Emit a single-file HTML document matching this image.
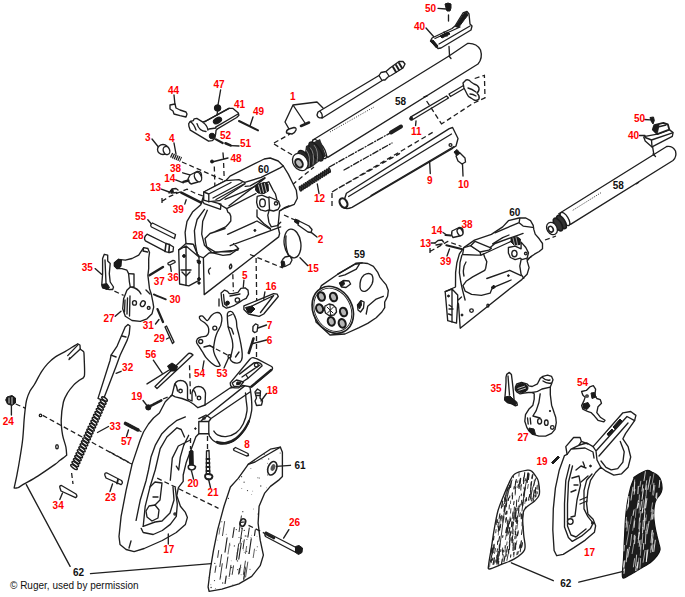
<!DOCTYPE html>
<html><head><meta charset="utf-8">
<style>
html,body{margin:0;padding:0;background:#fff;width:685px;height:597px;overflow:hidden}
svg{display:block}
.l{font-family:"Liberation Sans",sans-serif;font-weight:bold;font-size:10px;fill:#f00}
.k{font-family:"Liberation Sans",sans-serif;font-weight:bold;font-size:10px;fill:#111}
.s{fill:none;stroke:#1f1f1f;stroke-width:1.35;stroke-linejoin:round;stroke-linecap:round}
.w{fill:#fff;stroke:#1f1f1f;stroke-width:1.35;stroke-linejoin:round}
.d{fill:none;stroke:#1f1f1f;stroke-width:1.3;stroke-dasharray:5 3}
.f{fill:#1a1a1a;stroke:#1a1a1a;stroke-width:1}
.t{fill:none;stroke:#1a1a1a;stroke-width:0.9}
</style></head><body>
<svg width="685" height="597" viewBox="0 0 685 597">
<!-- TOP-LEFT SMALL PARTS -->
<g id="tl">











<path class="s" d="M174 95L175 105M220.6 90L218 105M253 117L250 126M152 139L160 149M174 143L176 154M239 146L231 145.6"/>
<path class="w" d="M170 105L175 104L176 108L180 110L186 112L187 114L186 117L180 115.6L174 114L173 111L170 109Z"/>

<!-- rear sight 41 -->
<path class="w" d="M188.9 126.3L188.7 123.6L190.3 121.5L193.3 120.6L194.2 118.8L196.8 118.4L202.5 121.9L205.1 121.5L228.8 108.3L232.7 108.3L238.4 113.1L238.9 115.3L236.7 117.5L217.4 128.9L216.1 130.2L215.6 134.2L214.8 138.5L212.1 140.7L208.6 141.2L190.3 130.2Z"/>
<path class="s" d="M204.7 121.7L229.2 108.3M215.6 127.1L238 114M190.3 121.5Q194 124 196 130M197 123.6Q199 131 206 131.5M203 122.5Q207 125 208 130M209 129L216 128"/>
<ellipse cx="217.5" cy="120.5" rx="4.5" ry="2.8" transform="rotate(-30 217.5 120.5)" class="f"/>
<circle cx="217.6" cy="108" r="3.3" class="f"/>
<path class="s" d="M217.6 111L217 115"/>
<circle cx="212" cy="136" r="2.8" class="f"/>
<path class="s" style="stroke-width:2.2" d="M216 139.4L222.7 143"/>
<path class="s" style="stroke-width:2.6" d="M225.5 143.3L230.5 145.4"/>
<path class="s" style="stroke-width:2" d="M239 121L258 130.4"/>
<!-- 3 plunger -->
<ellipse cx="163" cy="149.5" rx="5.5" ry="5" class="w"/>
<ellipse cx="166.5" cy="150.5" rx="3.2" ry="4.2" class="w" transform="rotate(-20 166.5 150.5)"/>
<!-- 4 spring -->
<path class="s" style="stroke-width:5;stroke-dasharray:1.3 0.7;stroke-linecap:butt" d="M171 155L181 159.5"/>
<path class="d" d="M182 162L223 180"/>
<!-- 48 pin -->
<path class="s" d="M212 162L228 158M223 153L223.5 159"/>
<circle cx="212" cy="161.5" r="1.5" class="f"/>
<path class="d" d="M214.3 166.5L214.9 187M223.6 163L224.2 179"/>
</g>

<!-- BARREL 58 LEFT -->
<g id="barrel">
<path class="w" d="M313.3 139.7L449 56L467.5 43.5Q476.4 42.8 480.5 50Q483 58 478 64L327.7 157.4Z"/>
<path class="s" d="M449 56L451 58.5M424 97L427 96"/>
<ellipse cx="319.5" cy="149" rx="4.2" ry="11.2" transform="rotate(-33 319.5 149)" class="w"/>
<path d="M306 146L320 139L326 156L312 167L302 171Z" fill="#2a2a2a"/>
<ellipse cx="316" cy="151.5" rx="4.5" ry="11" transform="rotate(-33 316 151.5)" fill="#2a2a2a" stroke="#1a1a1a" stroke-width="1.4"/>
<ellipse cx="304.5" cy="159" rx="4.5" ry="9.8" transform="rotate(-33 304.5 159)" fill="#2a2a2a" stroke="#1a1a1a" stroke-width="1.4"/>
<path d="M306 150Q311 156 309 167M310 147.5Q315 153 313 164.5M314 145Q319 151 317 162" stroke="#999" stroke-width="0.8" fill="none"/>
<ellipse cx="300.3" cy="162" rx="7.2" ry="9.2" transform="rotate(-33 300.3 162)" class="w"/>
<ellipse cx="299" cy="163.3" rx="3.4" ry="4.6" transform="rotate(-33 299 163.3)" fill="#bbb" stroke="#1f1f1f" stroke-width="2"/>
<path class="t" style="stroke-dasharray:1 1.5" d="M330 132L374 107"/>
<path class="s" style="stroke-dasharray:6 2 1 2" d="M329.3 167L389.6 133.3M344 170L392 143"/>
<path class="s" style="stroke-width:4" d="M391 132.5L401 126.5"/>

</g>
<!-- ejector rod -->
<path class="w" d="M318 112L379 75.5L381 72.5L386 71.5L390 68L399 61.5L403 61.5L405 64L403 68L391 75.5L388 77L385 80L383 80L323 117.5Q318 119 317 115Z"/>
<path class="s" d="M320 111.5Q323 114 322 118M379 75.5L382 80.5M386 71.5L389 76"/>
<path class="s" style="stroke-width:2" d="M393 67L396 72M396 65L399 70M399 63L402 68"/>
<!-- part 1 -->

<path class="s" d="M293 105L317 102L323 108M293 105L285 122L289 129M293 105L305 123"/>
<path class="w" d="M286.5 133Q286 130 289 129L294 127.5Q296.5 127.5 296 130Q295 133 292 134Z"/>
<path class="s" style="stroke-width:2.6" d="M301 126L309 122.5"/>
<path class="d" d="M274 144L294 156M274 143L290 134"/>
<!-- front sight 40 / screw 50 -->


<path class="s" d="M438 8.4L446 9M426 28L434 37"/>
<path class="f" d="M445 4Q448 2 451 4L451 8L450 11L447 11L446 8Z"/>
<path class="s" d="M448.5 15L448.5 21"/>
<path class="w" d="M430.5 41L432 38L452 28.5L455 26L463 13L467 11.5L469 14L470 24L472 26L471 30L441 48L438 48.5L434 44.5Z"/>
<path class="s" d="M433 41.5L437 46M435 38.5L460 27M439 44L470 26M456 26.5L466 14M444 32L447 36"/>
<path class="f" d="M440 36L448 32L450 34L442 38Z"/>
<path class="f" d="M455.5 26.5L463.5 14L466.5 12.5L468 15L464.5 19.5L458.5 27.5Z"/>
<path class="f" d="M430.5 41L433 40L438 46L436.5 48Z"/><path class="s" d="M449 46.5L449.5 55"/>
<!-- part 11 -->
<path class="w" d="M410.5 117.2L446.6 96L448.5 98L412 120Z"/>
<circle cx="411.2" cy="118.6" r="1.6" class="f"/>
<path class="w" d="M449 94L463.5 85.5L465 88L450.5 96.5Z"/>
<path class="w" d="M463 83L466 80Q469 79 471 82L474 84Q478 85 479 88Q479.5 91 477 93Q480 96 479 99Q477 101 474 100L471 98Q468 97 467 94L464 88Z"/>
<path class="s" d="M468 88Q472 89 476 92M470 94Q473 94 476 96"/>
<path class="d" d="M474.7 78.5L484.4 75.3L485 97.8L473 103.4L441 124.3M426.6 101L441.8 124.3"/>

<path class="s" d="M416 121L415.6 125.5"/>
<!-- spring 12 -->
<g><ellipse cx="300.4" cy="188.7" rx="2.4" ry="0.9" transform="rotate(72.4 300.4 188.7)" fill="#555" stroke="#1a1a1a" stroke-width="1.3"/><ellipse cx="302.3" cy="187.5" rx="2.4" ry="0.9" transform="rotate(72.4 302.3 187.5)" fill="#555" stroke="#1a1a1a" stroke-width="1.3"/><ellipse cx="304.3" cy="186.2" rx="2.4" ry="0.9" transform="rotate(72.4 304.3 186.2)" fill="#555" stroke="#1a1a1a" stroke-width="1.3"/><ellipse cx="306.2" cy="185.0" rx="2.4" ry="0.9" transform="rotate(72.4 306.2 185.0)" fill="#555" stroke="#1a1a1a" stroke-width="1.3"/><ellipse cx="308.1" cy="183.8" rx="2.4" ry="0.9" transform="rotate(72.4 308.1 183.8)" fill="#555" stroke="#1a1a1a" stroke-width="1.3"/><ellipse cx="310.0" cy="182.5" rx="2.4" ry="0.9" transform="rotate(72.4 310.0 182.5)" fill="#555" stroke="#1a1a1a" stroke-width="1.3"/><ellipse cx="312.0" cy="181.3" rx="2.4" ry="0.9" transform="rotate(72.4 312.0 181.3)" fill="#555" stroke="#1a1a1a" stroke-width="1.3"/><ellipse cx="313.9" cy="180.1" rx="2.4" ry="0.9" transform="rotate(72.4 313.9 180.1)" fill="#555" stroke="#1a1a1a" stroke-width="1.3"/><ellipse cx="315.8" cy="178.8" rx="2.4" ry="0.9" transform="rotate(72.4 315.8 178.8)" fill="#555" stroke="#1a1a1a" stroke-width="1.3"/><ellipse cx="317.7" cy="177.6" rx="2.4" ry="0.9" transform="rotate(72.4 317.7 177.6)" fill="#555" stroke="#1a1a1a" stroke-width="1.3"/><ellipse cx="319.7" cy="176.4" rx="2.4" ry="0.9" transform="rotate(72.4 319.7 176.4)" fill="#555" stroke="#1a1a1a" stroke-width="1.3"/><ellipse cx="321.6" cy="175.1" rx="2.4" ry="0.9" transform="rotate(72.4 321.6 175.1)" fill="#555" stroke="#1a1a1a" stroke-width="1.3"/><ellipse cx="323.5" cy="173.9" rx="2.4" ry="0.9" transform="rotate(72.4 323.5 173.9)" fill="#555" stroke="#1a1a1a" stroke-width="1.3"/><ellipse cx="325.4" cy="172.7" rx="2.4" ry="0.9" transform="rotate(72.4 325.4 172.7)" fill="#555" stroke="#1a1a1a" stroke-width="1.3"/><ellipse cx="327.4" cy="171.4" rx="2.4" ry="0.9" transform="rotate(72.4 327.4 171.4)" fill="#555" stroke="#1a1a1a" stroke-width="1.3"/><ellipse cx="329.3" cy="170.2" rx="2.4" ry="0.9" transform="rotate(72.4 329.3 170.2)" fill="#555" stroke="#1a1a1a" stroke-width="1.3"/></g>

<path class="s" d="M317.3 184L319 193.5"/>
<path class="d" d="M292.4 184.7L314 167"/>
<!-- housing 9 -->
<path class="w" d="M346.4 193.2L449.3 128.6L452.6 127.5L458 138.5L456 146L452.6 148.3L352 207.4Q346 210 342 207Z"/>
<path class="s" d="M348.6 196.5L451.5 134M371 195.5L454 146.5"/>
<ellipse cx="343.5" cy="203" rx="3.5" ry="5" transform="rotate(-30 343.5 203)" class="w" style="stroke-width:2.2"/>
<circle cx="450.5" cy="145" r="1.4" class="s"/>
<path class="d" d="M332 192L435 131M332 193L332 206M333.4 191L400 153.4"/>

<path class="s" d="M429.6 161.5L430.3 173.5"/>
<!-- screw 10 -->
<path class="f" d="M454 152L457 149.5L460 153L457 156Z"/>
<path class="w" d="M456 156L460 153L465 158L465.5 162L462 164L458 161Z"/>

<path class="s" d="M462.5 164L463 176"/>

<!-- FRAME 60 LEFT -->
<g id="frame">
<path class="w" d="M204.9 191.6L225.7 180.7L230 176.1L260.2 161L264.2 159L270.2 158L278.2 161L283.3 166L288.3 174.1L292.3 182.2L296.3 190.2L297.3 198.2L294.3 204.3L285 208L279.5 211L278 226.8L279.6 233.5L278.7 236.9L204.2 294.6L203.4 257.8L199 256L197 253.6L193.4 244.4L186 243.5L185.1 232.4L187 221.3L192.5 212.1L200.8 204.7Z"/>
<path class="w" d="M178.7 249.9L186 243.5L193.4 244.4L197.1 253.6L199 257L199 280.3L188.8 285.9L179.6 284Z"/>
<path class="s" d="M186 246L186 285.5M178.7 249.9L186 246L199 257"/>
<path class="s" d="M243.1 182.8L261.1 177.4L279.7 168.1L283.3 166M225 199.3L241.4 192.7L255.7 186.1L268.8 181.8L271 186.1L273.2 190.5L275.4 193.8L276.5 198.2L277.6 205"/>
<path class="w" d="M202.7 201.7L204.2 203.7L220.5 209.3L221 204.2L203 199Z"/>
<path class="w" d="M203.7 192L225.7 180.7L238.9 179.7L244.6 182.3L245.1 183.8L219.5 200.7L208.8 201.7L203.7 200.1Z"/>
<path class="s" d="M203.7 192L208.8 194L208.8 201.7M208.8 194L231 182.5M213 198L242 182.5M216 199.5L244 184M229 205.8L265 178.2M245.1 186.3L250.2 185.8L265 177.7"/>
<path class="s" d="M204.5 209.4L197.1 219.5L194.4 230.6L195.3 243.5L197.1 253.6M207.3 210.3L202.7 221.3L201.7 234.2L204.5 245.3L211.9 252.7L222.9 255.4L230.3 254.5L238.5 248.6"/>
<path class="s" d="M219 204L226.7 208.7L256 193.5M226.7 208.7L227.9 212.2L229.7 213.4L230.8 216.3L230.8 221L227.9 224.6L225.6 226.9L215 231.6M225.1 228.5L210 233.5L205 238.5L206.7 246.9L215.1 251.9L230.2 251.9L238.5 248.6M227.6 234.3L257 221L270.4 229.3M230.2 245.7L271.3 230.4L280.7 226.9M233.5 243.6L238 248M203.4 257.8L209 253L238 250"/>
<path class="s" d="M210.5 268Q207 270 209.5 274M231 264Q228.5 266 230 269Q233 267 231 264Z"/>
<path class="f" d="M256 185L264 182.5L268 184L268.5 191L264 193.5L258 193L255.5 190Z"/>
<path class="s" style="stroke:#fff;stroke-width:0.7" d="M258.5 185L260.5 192.5M261.5 184L263.5 192.5M264.5 183.5L266.5 192"/>
<path class="w" d="M257.2 196.4L261.9 195.2L267.8 197.6L269.5 197L274 199L278.5 201L280 206L278 209.5L273.5 211L268.9 210L265.4 211.1L260.7 209.9L257.8 207L256.6 202.3Z"/>
<ellipse cx="262.5" cy="202.9" rx="2.8" ry="3.9" class="w"/>
<circle cx="276" cy="203.4" r="1.6" class="w"/><path class="s" d="M268.9 198L269.5 209.5"/>
<path class="s" d="M268.9 211.1L267.8 215.2L268.9 222.2L271.3 226.9L277.1 225.7L280.7 222.2M279.5 211L284 208L289 206M257 210L257 216.8L263.7 223.5L270.4 228.5"/>
<circle cx="254.9" cy="230.4" r="1" class="f"/>
<path class="s" d="M182 272L186 276L190 272M181 270L191 270"/>
<path class="f" d="M197 260L200.5 261L200 264L197.5 263Z"/>
<circle cx="184" cy="256" r="1.4" class="f"/>
<circle cx="199" cy="279" r="1.4" class="f"/>
<circle cx="199" cy="283" r="1.2" class="f"/>
</g>

<!-- LEFT-OF-FRAME PARTS -->
<g id="lp">












<!-- 38 -->
<path class="w" d="M190 175L197 171.5Q201 171 201.5 175Q202 180 198 182L191 184Q188 182 188 179Z"/>
<ellipse cx="198" cy="177" rx="3.3" ry="5" transform="rotate(-25 198 177)" class="w"/>
<path class="s" d="M182.7 172.8L189.8 174.9M175.6 179.9L183.4 182.8M161.3 189.2L169.2 192M184.8 204.1L186.2 199.8M147.8 219.8L151.4 224"/>
<path class="s" style="stroke-width:2.4" d="M183.4 181.8L188.4 180.5"/>
<!-- 13 -->
<path class="s" d="M169 193L172 189L176 188.5L178 190M171 193L177 192.5"/>
<path class="f" d="M170 191L172.5 189L173.5 191.5L171.5 193Z"/>
<!-- 39 -->
<path class="s" style="stroke-width:2.6" d="M181.3 192.7L201.2 202.7"/>
<path class="d" d="M162 201.3L169.9 196.3L178.4 192.7L187 189.2L195.5 193.4L204 196.3M162 198L162 203"/>
<!-- 55 -->
<path class="w" d="M152.5 223L175.5 234.5L174.5 238.5L151.5 227Q149.5 225 152.5 223Z"/>
<!-- 28 -->
<path class="w" d="M147 234.2L166 243.5L169.5 244.5L173.5 247L173 251.5L169.5 252.5L166.3 251.8L145.4 240.9Q143 237.5 147 234.2Z"/>
<path class="s" style="stroke-width:1.6" d="M166 243.5L165 251.5M169.5 244.5L168.8 252.5"/>
<!-- 35 -->
<path class="w" d="M104.3 254.3L107.7 255.2L107.7 261L110.2 263.5L109.3 273.6L110.2 282L113.5 287L112.7 289.5L109.3 289.5L102.6 287.8L101.8 284.5L102.6 273.6L102.6 258.5Z"/>
<path class="s" d="M105 260L106 283"/>
<path class="f" d="M101.8 284.5L107 283.5L109.5 287.5L107 289.5L102.6 287.8Z"/>
<path class="s" d="M95.1 268.6L101.8 274.4"/>
<path class="d" d="M114.4 291.2L123.6 295.4"/>
<!-- 27 hammer -->
<path class="w" d="M114.4 262.7L118.6 259.3L125.3 260.2L132 258.5L138.7 255.2L142 250.1L143.7 247.6L147.9 248.5L149.5 252.6L148.7 258.5L148.7 268.6L147.9 275.3L149.5 288.7L151.2 293.7L152.9 302.1L153.7 307.1L152 313.8L147 318.8L140.3 321.3L132 320.5L125.3 316.3L122.7 308.8L123.6 298.7L126.9 290.3L130.3 287L129.4 282L128.6 273.6L126.9 270.2L121.9 268.6L116.9 268.6L114.4 266Z"/>
<path class="f" d="M114.4 262.7L118.6 259.3L121.5 260L121 266.5L118 268.6L116.9 268.6L114.4 266Z"/>
<path class="s" d="M143.7 247.6L143 251L147.5 252M128.6 273.6L134 274L134 287L130.3 287M125 300L124.5 312M127.5 298L127 314M130 296L129.5 316M131 287Q138 288 141 294M146 290L150 294"/>
<ellipse cx="134.5" cy="302.9" rx="2" ry="2.2" class="s"/>
<ellipse cx="142.8" cy="303.7" rx="2.2" ry="3" transform="rotate(30 142.8 303.7)" class="s"/>
<circle cx="148.7" cy="307.9" r="1.4" class="s"/>
<path class="s" d="M115.2 316.3L121 311.3"/>
<!-- 37 36 30 31 29 -->
<path class="s" style="stroke-width:2.4" d="M149.5 275.3L163 266.9"/>
<path class="w" d="M168 263L173 260.3Q175.5 260.3 175 262.5L170 265Q167.5 265 168 263Z"/>
<path class="s" d="M170.4 265.8L171.3 271.3"/>
<path class="s" style="stroke-width:1.8" d="M153.8 294.4Q157 296 160.3 297.1L165.8 299.3"/>
<path class="s" style="stroke-width:2.3" d="M157.5 309.1L163 322"/>
<path class="s" d="M155.5 324L159 319.5"/>
<path class="w" d="M165 327L166.5 326L174 342L172.5 343.5Z"/>
<path class="s" d="M166.5 339L169.5 337.5"/>
</g>

<!-- CYLINDER 59 -->
<g id="cyl">
<path class="w" d="M321.4 285.6L337.8 274.2L355.6 263.5L362 262.8L367.7 263.5L373.4 266.4L377.6 272.1L379.8 277.1L382.6 280.6L386.2 284.9L388.3 290.6L387.6 296.3L386.2 299.1L384.7 302L384.7 307.7L381.9 312L376.2 317.7L367.7 323.4L359.1 327.6L345 334L330 335L316 322L313 305Z"/>
<path class="s" d="M360 287Q359.5 279 364 275Q369 272 372 275Q374 279 372 284Q369 290 365 291.3Q360.5 292 360 287Z"/>
<path class="s" d="M366.2 314L367.7 306.3L376.2 299.1L383.3 296.3M337.8 274.2L354.8 264.3L359.8 263.5L356.3 269.2L344.9 274.9L339.2 276.4M355.6 263.5L362 262.8"/>
<path class="s" d="M339.5 283L343.5 280.5L349 281L350.6 284L346 287.5L341.5 287Z"/>
<path class="f" d="M339.5 283L343.5 280.5L344.5 284L341.5 287Z"/>
<path class="s" d="M357.5 305L361 300.6L364.1 302L363.5 308L360.5 312L358 310Z"/>
<path class="f" d="M357.5 305L361 300.6L361.5 305L359.5 309Z"/>
<ellipse cx="332.8" cy="309.8" rx="19.5" ry="24.5" transform="rotate(-28 332.8 309.8)" class="w" style="stroke-width:1.7"/>
<ellipse cx="332.8" cy="309.8" rx="17.8" ry="22.6" transform="rotate(-28 332.8 309.8)" class="s" style="stroke-width:0.9"/>
<g fill="#b5b5b5" stroke="#1a1a1a" stroke-width="2.1">
<ellipse cx="321.4" cy="296.5" rx="3.4" ry="4.4" transform="rotate(-20 321.4 296.5)"/>
<ellipse cx="333.5" cy="297" rx="3.4" ry="4.4" transform="rotate(-20 333.5 297)"/>
<ellipse cx="343.5" cy="312" rx="3.4" ry="4.4" transform="rotate(-20 343.5 312)"/>
<ellipse cx="342.2" cy="323.4" rx="3.4" ry="4.4" transform="rotate(-20 342.2 323.4)"/>
<ellipse cx="331.3" cy="321.4" rx="3.4" ry="4.4" transform="rotate(-20 331.3 321.4)"/>
<ellipse cx="319.6" cy="308.6" rx="3.4" ry="4.4" transform="rotate(-20 319.6 308.6)"/>
</g>
<path class="s" d="M325 306L329 304L333 305L336 308L336.5 312L334 315L329 315.5L325.5 313L324.5 309.5Z"/>
<path class="s" style="stroke-width:1" d="M327 307L333 313M333.5 307L327.5 313M330 305L330.5 315"/>
</g>
<!-- part 2 -->
<path class="d" d="M284 215L295 220"/>
<path class="f" d="M295 219L299 220.5L298 224L294.5 222Z"/>
<path class="w" d="M299 221L309 226L312 229.5L311 232.5L308 232L298 225Z"/>

<path class="s" d="M311.5 232.6L317 237"/>
<!-- part 15 -->
<ellipse cx="292.5" cy="243.5" rx="8.3" ry="14.5" transform="rotate(-8 292.5 243.5)" class="w"/>
<path class="s" d="M286 236Q285 248 289 256"/>
<path class="w" d="M285 257L290 256L292 260L290 264L286 266L282 267L281.3 262L283 259Z"/>
<path class="f" d="M281.3 262L284 261L285 265L282 267Z"/>

<path class="s" d="M300 257.7L307.6 265.5"/>

<!-- GRIP FRAME 17 LEFT -->
<g id="gf">
<path class="w" d="M172 395.1L174 387Q175 380.5 180.5 380.5Q186.5 380.5 187.5 387L187.5 399L192 401L192 393Q193.5 386.5 198.5 386.5Q204 386.5 205.5 393L205 405L230 388L245.3 385.4L250.0 387.0C250.2 388.8 251.1 393.9 251.4 397.9C251.7 401.9 252.2 406.5 251.6 410.8C251.0 415.1 249.8 419.7 248.0 423.7C246.2 427.7 243.4 431.7 240.6 434.8C237.8 437.9 234.8 440.7 231.4 442.2C228.0 443.7 223.4 444.3 220.3 444.0C217.2 443.7 214.7 441.6 212.9 440.3C211.1 439.0 210.1 436.7 209.5 436.0L208.8 433.7L198.8 433.7L195.9 436.8L191.1 449.5L186.3 462.2L183.2 475L183.2 481.3L178.4 487.7L176.8 495.6L180.4 506.3L185.4 512.4L187.4 517.4L185.4 524.4L176.3 532.5L162.3 540.5L144.2 548.5L134.1 551.6L126.1 549.5L120 544.5L119 536.5L121.1 516.4L126.1 490.3L132.1 464.1L140.2 440L143.5 432L148.5 424L153.5 418L159.4 413L165.3 401.8Z"/>
<path class="s" d="M175 384Q177 386 177.5 391M193.5 390Q195.5 392 196 396"/>
<circle cx="180.5" cy="391" r="1.8" class="s"/>
<circle cx="199" cy="398" r="1.8" class="s"/>
<path class="s" d="M172 395.1L175.3 396.8L182 398.5L188.7 401L193.7 404.3L197.9 407.7L205 405"/>
<path class="s" d="M198.8 418.6L206 415L211 418.5L208.8 421.5L198.8 421.5L198.8 433.7M208.8 421.5L208.8 433.7M201.4 420.5L245.3 385.4M211 418.5L250 392"/>
<circle cx="204" cy="418" r="1.2" class="s"/>
<path class="s" d="M245.5 393.0C245.6 394.1 245.8 396.8 246.1 399.8C246.3 402.8 247.5 406.8 247.0 410.8C246.5 414.8 245.1 420.0 243.3 423.7C241.5 427.4 238.9 430.8 236.0 432.9C233.1 435.0 228.9 436.3 225.8 436.6C222.7 436.9 219.5 435.7 217.5 434.8C215.5 433.9 214.4 431.7 213.8 431.1"/><path class="s" style="stroke-width:2.3" d="M249.0 421.0C248.2 422.5 246.2 427.1 244.0 430.0C241.8 432.9 239.0 436.3 236.0 438.5C233.0 440.7 229.2 442.4 226.0 443.0C222.8 443.6 218.5 442.2 217.0 442.0"/>
<path class="s" d="M185.4 416.9L177 420.3L168.6 427L161.9 433.7L155.2 445.4L151 457.1L148.5 470L146.2 480.2L140.2 500.3L136.1 520.4"/>
<path class="s" d="M177 427.8L166.9 437L160.2 448.7L155.2 470L150.2 486.2L145.2 506.3L143.2 526.4M177 427.8L181.2 429.5L184.5 437"/>
<path class="s" d="M188.7 435.3L183.7 445.4L180.3 457.1L178.7 470L176.3 466.1M170.3 480.2L172.3 458.1L178.3 446L190.4 440"/>
<path class="s" d="M141.2 528.4L143.2 532.5L153.2 534.5L162.3 530.5L170.3 524.4L176.3 516.4L177.3 504.3L175.3 488.2M143.2 526.4L155 522L162 521L170 513L174 500L173 487"/>
<path class="w" d="M149 506L155 505L159 510L158 518L152 521L147 517L146 511Z"/>
<path class="s" d="M150 487L155 482L162 483L160 500L155 505M153 497L158 497"/>
<circle cx="175" cy="514" r="1.1" class="s"/>
<circle cx="195.4" cy="428.6" r="0.8" class="f"/>
<path class="s" d="M129 548L131 541"/>

<path class="s" d="M168.3 534L168.3 544"/>
<!-- trigger plate parts -->
<path class="w" d="M230.2 382.9L249.9 359.2Q251.5 357.4 253.1 357.6L257.1 358.8L271.6 366.5Q273.5 368 271.6 370.1L251.5 386.9L242.7 385.3L238.7 387.8L234.6 387.8Q230.6 387 230.6 385.3Z"/>
<path class="s" d="M239.5 374.1L253.9 362.9Q257.5 361.8 260.3 363.3Q262.5 364.8 261.9 366.1L248.3 378.1L243.5 381.3M242 377L260 365M246.5 375.5L248 378"/>
<path class="w" d="M232.2 383L236.5 380L243.5 382L240 386.1L234 386.5Z"/>
<path class="f" d="M237 382L241 382.5L239.5 384.5L236.5 384.5Z"/>
<circle cx="256.3" cy="364.9" r="1.9" class="s"/>
<path class="s" style="stroke-width:2.4" d="M251.5 386.5L271.2 370"/>
</g>
<!-- screws 20 21 -->
<path class="f" d="M189.3 451.5Q191 449.5 193 451L193.3 465L189.5 465Z"/>
<path class="w" style="stroke-width:1.6" d="M188.3 466.5Q188.5 465 191 465Q194.5 465 195.5 466.5Q195.5 469.5 191.5 470Q188 469.5 188.3 466.5Z"/>

<path class="s" d="M191.5 471L193.5 479"/>
<path class="w" d="M206.5 451L209 450.5L209.8 474L206.3 474Z"/>
<path class="s" style="stroke-width:1.8" d="M206.5 459L209.5 459M206.5 463L209.5 463M206.5 467L209.5 467M206.5 471L209.5 471"/>
<path class="w" style="stroke-width:1.8" d="M205 476Q205 474 208 474Q212 474 212.5 476.5Q212 479.5 208.5 479.5Q205 479 205 476Z"/>

<path class="s" d="M208.5 479L210.5 487.5"/>
<path class="d" d="M110 452L132.1 464.1M157.2 478.2L218.5 508.3M190.5 438L190.5 449M207.5 436L207.5 449"/>

<!-- PARTS 5 16 54 53 7 6 18 8 -->
<g id="mp">







<path class="w" d="M221.1 293L224.6 290.1L227.5 291.3L229.3 293.6L232.2 293.6L238 292.4L240.9 288.4L245 287.8L248 290.1L248.5 294.2L246.2 298.3L242.7 300L239.2 302.4L234.5 305.3L230.4 307L226.4 308.2L222.8 305.9L221.7 300Z"/>
<path class="s" d="M223.5 294.5L224.5 304L227 306M230 296L240 294"/>
<circle cx="237.4" cy="300" r="2.2" class="s"/>
<circle cx="227.5" cy="303" r="1.9" class="f"/>
<path class="s" d="M243.9 280.2L243.3 287.2M219 299L219 306"/>
<path class="d" d="M232.8 274.3L233.4 291.3M256.1 258L256.7 300M250 254.5L283 268"/>
<path class="w" d="M243.9 305.9L273.6 293.6L277.2 294.2L278.3 296.5L275.4 300L263.7 314L259.1 316.4L248.5 314L243.9 309.4Z"/>
<path class="f" d="M245.5 307.5L252 306L255 309L251 313L248 312.5Z"/>
<path class="s" d="M248 308L273.6 295.5L260.5 312.5M264.9 291.9L263.7 298.9"/>
<!-- 54 -->
<path class="w" d="M199.4 316.7C199.6 316.2 201.8 315.6 202.7 316.1C203.6 316.6 206.4 320.8 207.4 320.7C208.4 320.6 210.4 316.3 211.4 315.4C212.4 314.5 215.1 312.9 216.1 312.7C217.1 312.5 219.4 312.8 220.1 313.4C220.8 314.0 221.8 316.7 221.9 318.1C222.0 319.5 221.3 323.8 220.8 325.4C220.3 327.0 218.0 330.7 217.4 332.1C216.8 333.5 215.8 336.1 215.4 337.5C215.0 338.9 214.3 342.8 214.1 344.2C213.9 345.6 213.3 348.3 213.4 349.5C213.5 350.7 214.3 353.7 214.8 354.9C215.3 356.1 216.8 359.0 217.4 360.2C218.0 361.4 220.2 364.9 220.1 365.6C220.0 366.3 217.8 366.6 216.8 366.3C215.8 366.0 212.6 363.9 211.4 362.9C210.2 361.9 207.1 358.8 206.1 357.6C205.1 356.4 203.5 353.4 202.7 352.2C201.9 351.0 200.1 348.0 199.4 346.9C198.7 345.8 196.9 343.7 196.7 342.8C196.5 341.9 196.9 339.5 197.4 338.8C197.9 338.1 200.4 337.1 201.4 336.8C202.4 336.5 205.2 336.6 206.1 336.1C207.0 335.6 208.5 333.2 208.7 332.1C208.9 331.0 208.6 327.9 208.1 326.8C207.6 325.7 205.6 323.6 204.7 322.8C203.8 322.0 201.3 320.8 200.7 320.1C200.1 319.4 199.2 317.2 199.4 316.7Z"/>
<circle cx="214.8" cy="328.1" r="2" class="s"/>
<circle cx="200.7" cy="341.5" r="2" class="s"/>
<path class="s" d="M204 347L210 345.5L214 348M202.6 369L204 361"/>
<!-- 53 -->
<path class="w" d="M227.5 313.4C227.8 312.4 229.6 311.5 230.2 311.4C230.8 311.3 232.1 311.7 232.8 312.7C233.5 313.7 235.7 318.5 236.2 320.1C236.7 321.7 236.6 325.1 236.9 326.8C237.2 328.5 238.4 332.8 238.9 334.8C239.4 336.8 240.5 342.0 240.9 344.2C241.3 346.4 242.1 351.6 242.2 353.5C242.3 355.4 242.0 359.1 241.5 360.2C241.0 361.3 239.2 362.7 238.2 362.9C237.2 363.1 233.7 362.7 232.8 362.2C231.9 361.7 230.4 359.9 230.2 358.9C230.0 357.9 231.2 354.9 231.5 353.5C231.8 352.1 232.7 348.5 232.8 346.9C232.9 345.3 232.5 341.8 232.2 340.2C231.9 338.6 230.7 335.1 230.2 333.5C229.7 331.9 228.5 328.4 228.2 326.8C227.9 325.2 227.6 321.7 227.5 320.1C227.4 318.5 227.2 314.4 227.5 313.4Z"/>
<path class="s" d="M228.5 316L232 314.5M228.2 326.8L231.5 328.5L233.5 334M235.5 357L239 352"/>
<circle cx="229.5" cy="356.2" r="1.5" class="s"/>
<path class="s" d="M224 368L228.5 358"/>
<path class="d" d="M208.9 345.2L230.2 356.5"/>
<!-- 7 6 -->
<path class="w" d="M253 326.5L255.5 323.9L258 325L257 331.5L254.5 332.6L252.8 331Z"/>
<path class="s" d="M258 328L266.5 325"/>
<path class="s" style="stroke-width:2.6;stroke-dasharray:1.2 0.6" d="M248.8 353L253.5 338.5"/>
<path class="s" d="M253 343.5L266.5 340"/>
<path class="d" d="M256.5 336L256.5 358"/>
<!-- 18 -->
<path class="w" d="M255 392L257.5 389L260.5 391L260 398L262.5 401L261.5 405L256.5 405.5L255 401L256.5 398Z"/>
<path class="s" d="M256.5 393L260 393M256.5 395.5L260 395.5M261 401L266.5 393.5"/>
<!-- 8 -->
<path class="w" d="M233.5 449L235.5 447.5L248 453.5L248.5 455.5L246.5 456L234 450.5Z"/>

</g>

<!-- LEFT GRIP PANEL 62 -->
<g id="lg">
<path class="w" d="M77.7 343.8C78.0 344.0 79.6 344.4 79.9 345.1C80.2 345.8 80.0 348.2 80.3 349.0C80.6 349.8 82.0 350.3 82.5 350.8C83.0 351.3 83.7 351.1 83.9 352.5C84.1 353.9 84.2 358.1 84.3 361.3C84.4 364.5 85.0 373.6 84.3 376.2C83.6 378.8 80.4 379.3 79.0 380.5C77.6 381.7 75.3 383.2 73.8 384.9C72.3 386.6 68.9 390.7 67.5 393.0C66.1 395.3 64.2 398.4 63.4 402.0C62.6 405.6 61.3 415.6 61.2 420.0C61.1 424.4 62.0 431.6 62.6 435.2C63.2 438.8 65.4 444.3 65.9 447.0C66.4 449.7 66.6 454.2 66.7 455.3L66.7 455.3C65.8 456.0 61.6 459.1 60.0 460.3C58.4 461.5 58.0 462.3 55.0 464.4C52.0 466.5 41.8 473.5 37.8 476.1C33.8 478.7 27.3 482.2 24.7 483.7C22.1 485.2 18.9 487.2 18.0 487.7Q15 488.5 14.1 488.0C14.6 485.8 16.1 479.3 17.0 474.6C17.9 469.9 18.7 465.8 19.6 460.0C20.5 454.2 21.9 446.7 22.6 440.0C23.4 433.3 23.7 425.0 24.1 420.0C24.5 415.0 24.7 413.3 25.1 410.0C25.5 406.7 25.8 403.2 26.6 400.0C27.4 396.8 28.7 393.6 30.0 391.0C31.3 388.4 32.5 387.7 34.4 384.5C36.3 381.3 39.2 375.2 41.4 371.8C43.6 368.4 45.2 366.4 47.5 363.9C49.8 361.4 52.5 358.9 55.4 356.9C58.3 354.8 62.2 353.2 65.0 351.6C67.8 350.0 69.9 348.6 72.0 347.3C74.1 346.0 76.8 344.4 77.7 343.8Z"/>
<path class="s" d="M67.7 355.6L77.7 345.1M69 359.5L80.3 349M69 359.5L69.8 357.8"/>
<circle cx="40.5" cy="415.4" r="1.2" class="s"/>
<ellipse cx="57" cy="446.7" rx="1.3" ry="2" class="s"/>
<path class="f" d="M7 397L12 395.5L15.5 398L15.5 403L12 405.4L7.5 404L5.7 400Z"/>
<path class="s" style="stroke:#fff;stroke-width:0.8" d="M9 398L9 403M12 397.5L12 404"/>

<path class="s" d="M11.4 405.5L11.4 415"/>
<path class="d" d="M15.7 404L25.6 408.3M42.7 415.4L130.9 463.7"/>
<!-- strut 32 -->
<path class="w" d="M125.2 327L128 324.5L130 326L129.2 334.1L127.2 340.1L120.1 355.2L116.1 366.2L103 400.4L98 398.4L110.1 360.2L111.1 355.2L117.1 346.1L123.1 332.1Z"/>
<path class="s" d="M111.1 355.2L116.1 357M122 336L126 337"/>

<path class="s" d="M121.1 371.3L116.1 373.3"/>
<!-- spring 33 -->
<g><ellipse cx="74.0" cy="467.0" rx="3.9" ry="1.3" transform="rotate(36.2 74.0 467.0)" fill="#fff" stroke="#1a1a1a" stroke-width="1.5"/><ellipse cx="75.3" cy="464.0" rx="3.9" ry="1.3" transform="rotate(36.2 75.3 464.0)" fill="#fff" stroke="#1a1a1a" stroke-width="1.5"/><ellipse cx="76.7" cy="461.1" rx="3.8" ry="1.3" transform="rotate(36.2 76.7 461.1)" fill="#fff" stroke="#1a1a1a" stroke-width="1.5"/><ellipse cx="78.0" cy="458.1" rx="3.8" ry="1.3" transform="rotate(36.2 78.0 458.1)" fill="#fff" stroke="#1a1a1a" stroke-width="1.5"/><ellipse cx="79.3" cy="455.2" rx="3.8" ry="1.3" transform="rotate(36.2 79.3 455.2)" fill="#fff" stroke="#1a1a1a" stroke-width="1.5"/><ellipse cx="80.6" cy="452.2" rx="3.8" ry="1.3" transform="rotate(36.2 80.6 452.2)" fill="#fff" stroke="#1a1a1a" stroke-width="1.5"/><ellipse cx="82.0" cy="449.3" rx="3.7" ry="1.3" transform="rotate(36.2 82.0 449.3)" fill="#fff" stroke="#1a1a1a" stroke-width="1.5"/><ellipse cx="83.3" cy="446.3" rx="3.7" ry="1.3" transform="rotate(36.2 83.3 446.3)" fill="#fff" stroke="#1a1a1a" stroke-width="1.5"/><ellipse cx="84.6" cy="443.3" rx="3.7" ry="1.3" transform="rotate(36.2 84.6 443.3)" fill="#fff" stroke="#1a1a1a" stroke-width="1.5"/><ellipse cx="85.9" cy="440.4" rx="3.7" ry="1.3" transform="rotate(36.2 85.9 440.4)" fill="#fff" stroke="#1a1a1a" stroke-width="1.5"/><ellipse cx="87.3" cy="437.4" rx="3.6" ry="1.3" transform="rotate(36.2 87.3 437.4)" fill="#fff" stroke="#1a1a1a" stroke-width="1.5"/><ellipse cx="88.6" cy="434.5" rx="3.6" ry="1.3" transform="rotate(36.2 88.6 434.5)" fill="#fff" stroke="#1a1a1a" stroke-width="1.5"/><ellipse cx="89.9" cy="431.5" rx="3.6" ry="1.3" transform="rotate(36.2 89.9 431.5)" fill="#fff" stroke="#1a1a1a" stroke-width="1.5"/><ellipse cx="91.2" cy="428.6" rx="3.6" ry="1.3" transform="rotate(36.2 91.2 428.6)" fill="#fff" stroke="#1a1a1a" stroke-width="1.5"/><ellipse cx="92.6" cy="425.6" rx="3.5" ry="1.3" transform="rotate(36.2 92.6 425.6)" fill="#fff" stroke="#1a1a1a" stroke-width="1.5"/><ellipse cx="93.9" cy="422.7" rx="3.5" ry="1.3" transform="rotate(36.2 93.9 422.7)" fill="#fff" stroke="#1a1a1a" stroke-width="1.5"/><ellipse cx="95.2" cy="419.7" rx="3.5" ry="1.3" transform="rotate(36.2 95.2 419.7)" fill="#fff" stroke="#1a1a1a" stroke-width="1.5"/><ellipse cx="96.5" cy="416.7" rx="3.5" ry="1.3" transform="rotate(36.2 96.5 416.7)" fill="#fff" stroke="#1a1a1a" stroke-width="1.5"/><ellipse cx="97.9" cy="413.8" rx="3.4" ry="1.3" transform="rotate(36.2 97.9 413.8)" fill="#fff" stroke="#1a1a1a" stroke-width="1.5"/><ellipse cx="99.2" cy="410.8" rx="3.4" ry="1.3" transform="rotate(36.2 99.2 410.8)" fill="#fff" stroke="#1a1a1a" stroke-width="1.5"/><ellipse cx="100.5" cy="407.9" rx="3.4" ry="1.3" transform="rotate(36.2 100.5 407.9)" fill="#fff" stroke="#1a1a1a" stroke-width="1.5"/><ellipse cx="101.8" cy="404.9" rx="3.4" ry="1.3" transform="rotate(36.2 101.8 404.9)" fill="#fff" stroke="#1a1a1a" stroke-width="1.5"/><ellipse cx="103.2" cy="402.0" rx="3.3" ry="1.3" transform="rotate(36.2 103.2 402.0)" fill="#fff" stroke="#1a1a1a" stroke-width="1.5"/><ellipse cx="104.5" cy="399.0" rx="3.3" ry="1.3" transform="rotate(36.2 104.5 399.0)" fill="#fff" stroke="#1a1a1a" stroke-width="1.5"/></g>

<path class="s" d="M108.5 426.5L97.5 432.5"/>
<!-- 57 -->
<path class="s" style="stroke-width:3.6;stroke-dasharray:1.4 0.7" d="M125.5 423.5L138 430"/>
<path class="s" d="M137 429.5L141 431.5M128.5 430L126.5 436.5"/>

<!-- 34 -->
<path class="w" d="M60 488Q59 485.5 61.5 485.5L76 494Q78 496.5 75.5 497.7L61 491Z"/>
<path class="d" d="M71.6 473L73 484"/>

<path class="s" d="M59.8 499.5L62.5 493"/>
<!-- 23 -->
<path class="w" d="M105 475.5Q104 472.5 107 473L121.5 480.5Q123.5 483 121 484.6L106 478Z"/>
<path class="s" style="stroke-width:1.8" d="M118 479.5L117 483.5"/>

<path class="s" d="M112.5 484L110 491.5"/>
<!-- 56 -->
<path class="s" style="stroke-width:1.4" d="M147 383.9L170 369.5"/>
<path class="w" d="M155 386.5L188.5 353.5Q191 352.5 193 355L157 388.5Z"/>
<path class="f" d="M167.5 366L172 363L177.5 366.5L176 371L170.5 371Z"/>

<path class="s" d="M153.3 360.2L162.3 373.3"/>
<path class="d" d="M189.5 365.2L190.5 395.4"/>
<!-- 19 -->
<circle cx="148.3" cy="407.4" r="2.6" class="f"/>
<path class="s" style="stroke-width:2.6;stroke-dasharray:1.2 0.7" d="M150.5 406L161.3 400.4"/>

<path class="s" d="M143 400.5L146.5 405"/>
<path class="d" d="M163 399L173 395"/>
</g>
<!-- RIGHT GRIP PANEL (left view) -->
<g id="rg">
<path class="w" d="M280.4 447.2L282.4 452.3L282.4 476.4L278.4 480.4L270.4 486.4L264.5 493.4L259.1 506.2L258.1 523.2L260.2 540.2L263.4 555.1L260.2 565.7L251.7 576.4L238.9 583.8L221.9 589.1L209.1 591.3L208.1 587L210.2 570L213.4 550.9L217.7 529.6L224 506.2L230.4 487L238.2 478.4L248.2 464.3L258.3 457.3L270.4 449.2Z"/>
<path class="s" d="M248.2 464.3L255 462L270.4 453L280.4 447.2"/>
<ellipse cx="272.3" cy="468.3" rx="4.3" ry="7" transform="rotate(20 272.3 468.3)" class="w" style="stroke-width:1.6"/>
<ellipse cx="273" cy="467.5" rx="2.2" ry="3.5" transform="rotate(20 273 467.5)" fill="#555"/>
<ellipse cx="242.8" cy="522.5" rx="2.6" ry="3.8" transform="rotate(20 242.8 522.5)" class="w" style="stroke-width:1.7"/><path class="s" style="stroke-width:1" d="M241 522.5L244.5 522"/>
<g><circle cx="241.9" cy="528.4" r="0.67" fill="#333"/><circle cx="242.9" cy="521.1" r="0.56" fill="#333"/><circle cx="221.8" cy="521.7" r="0.57" fill="#333"/><circle cx="267.5" cy="463.2" r="0.46" fill="#333"/><circle cx="214.8" cy="563.4" r="0.59" fill="#333"/><circle cx="211.1" cy="587.5" r="0.69" fill="#333"/><circle cx="257.0" cy="536.2" r="0.41" fill="#333"/><circle cx="242.8" cy="511.7" r="0.64" fill="#333"/><circle cx="246.9" cy="539.6" r="0.52" fill="#333"/><circle cx="257.7" cy="514.0" r="0.45" fill="#333"/><circle cx="266.4" cy="487.8" r="0.38" fill="#333"/><circle cx="232.9" cy="585.0" r="0.62" fill="#333"/><circle cx="267.8" cy="474.9" r="0.55" fill="#333"/><circle cx="241.6" cy="476.7" r="0.61" fill="#333"/><circle cx="217.8" cy="540.1" r="0.39" fill="#333"/><circle cx="239.6" cy="479.8" r="0.44" fill="#333"/><circle cx="230.8" cy="573.9" r="0.42" fill="#333"/><circle cx="237.6" cy="569.6" r="0.57" fill="#333"/><circle cx="215.5" cy="588.5" r="0.42" fill="#333"/><circle cx="227.4" cy="558.2" r="0.47" fill="#333"/><circle cx="226.2" cy="534.2" r="0.48" fill="#333"/><circle cx="244.3" cy="530.4" r="0.65" fill="#333"/><circle cx="222.7" cy="583.0" r="0.66" fill="#333"/><circle cx="253.3" cy="509.0" r="0.39" fill="#333"/><circle cx="210.9" cy="584.8" r="0.43" fill="#333"/><circle cx="260.8" cy="486.0" r="0.64" fill="#333"/><circle cx="252.7" cy="491.1" r="0.41" fill="#333"/><circle cx="262.0" cy="459.6" r="0.43" fill="#333"/><circle cx="250.0" cy="569.3" r="0.57" fill="#333"/><circle cx="229.0" cy="578.4" r="0.42" fill="#333"/><circle cx="250.9" cy="468.4" r="0.48" fill="#333"/><circle cx="257.3" cy="546.8" r="0.55" fill="#333"/><circle cx="209.3" cy="577.4" r="0.60" fill="#333"/><circle cx="280.2" cy="453.0" r="0.57" fill="#333"/><circle cx="244.2" cy="552.3" r="0.46" fill="#333"/><circle cx="249.0" cy="553.2" r="0.67" fill="#333"/><circle cx="234.4" cy="545.9" r="0.67" fill="#333"/><circle cx="251.0" cy="537.5" r="0.48" fill="#333"/><circle cx="251.7" cy="535.2" r="0.38" fill="#333"/><circle cx="237.1" cy="552.9" r="0.55" fill="#333"/><circle cx="241.0" cy="567.4" r="0.38" fill="#333"/><circle cx="264.3" cy="454.2" r="0.56" fill="#333"/><circle cx="244.1" cy="482.2" r="0.59" fill="#333"/><circle cx="245.3" cy="536.0" r="0.67" fill="#333"/><circle cx="230.6" cy="544.9" r="0.42" fill="#333"/><circle cx="220.7" cy="576.8" r="0.58" fill="#333"/><circle cx="241.1" cy="574.8" r="0.46" fill="#333"/><circle cx="257.9" cy="477.8" r="0.50" fill="#333"/><circle cx="251.7" cy="494.3" r="0.40" fill="#333"/><circle cx="245.2" cy="567.2" r="0.65" fill="#333"/><circle cx="241.8" cy="488.5" r="0.42" fill="#333"/><circle cx="239.0" cy="537.6" r="0.52" fill="#333"/><circle cx="231.7" cy="567.5" r="0.69" fill="#333"/><circle cx="210.4" cy="572.2" r="0.36" fill="#333"/><circle cx="231.2" cy="560.8" r="0.36" fill="#333"/><circle cx="241.5" cy="538.2" r="0.58" fill="#333"/><circle cx="259.3" cy="477.9" r="0.52" fill="#333"/><circle cx="243.4" cy="550.0" r="0.41" fill="#333"/><circle cx="228.4" cy="498.4" r="0.59" fill="#333"/><circle cx="247.0" cy="536.0" r="0.61" fill="#333"/><circle cx="237.5" cy="560.9" r="0.67" fill="#333"/><circle cx="214.5" cy="580.6" r="0.60" fill="#333"/><circle cx="236.3" cy="529.6" r="0.66" fill="#333"/><circle cx="242.8" cy="541.2" r="0.42" fill="#333"/><circle cx="256.1" cy="550.5" r="0.42" fill="#333"/><circle cx="241.1" cy="527.0" r="0.62" fill="#333"/><circle cx="268.7" cy="459.0" r="0.63" fill="#333"/><circle cx="267.1" cy="469.7" r="0.40" fill="#333"/><circle cx="246.7" cy="551.3" r="0.64" fill="#333"/><circle cx="247.5" cy="490.6" r="0.61" fill="#333"/><path d="M225.0 552.1L227.1 537.8" stroke="#222" stroke-width="1.14" stroke-linecap="round"/><path d="M220.0 579.3L222.3 563.7" stroke="#222" stroke-width="0.91" stroke-linecap="round"/><path d="M239.1 531.6L241.4 515.9" stroke="#222" stroke-width="0.91" stroke-linecap="round"/><path d="M229.2 576.5L230.9 565.3" stroke="#222" stroke-width="0.89" stroke-linecap="round"/><path d="M232.7 537.4L234.2 527.6" stroke="#222" stroke-width="1.09" stroke-linecap="round"/><path d="M253.2 557.6L254.5 549.1" stroke="#222" stroke-width="0.71" stroke-linecap="round"/><path d="M243.0 548.7L244.3 539.8" stroke="#222" stroke-width="0.97" stroke-linecap="round"/><path d="M215.0 572.4L216.0 566.0" stroke="#222" stroke-width="0.91" stroke-linecap="round"/><path d="M228.0 554.0L229.7 543.2" stroke="#222" stroke-width="0.70" stroke-linecap="round"/><path d="M219.8 566.6L221.6 554.6" stroke="#222" stroke-width="0.92" stroke-linecap="round"/><path d="M245.6 577.0L247.8 562.1" stroke="#222" stroke-width="0.79" stroke-linecap="round"/><path d="M225.1 583.5L226.2 576.1" stroke="#222" stroke-width="1.20" stroke-linecap="round"/><path d="M222.5 535.6L224.6 521.5" stroke="#222" stroke-width="0.85" stroke-linecap="round"/><path d="M247.9 537.3L249.3 527.9" stroke="#222" stroke-width="1.01" stroke-linecap="round"/><path d="M219.1 534.1L220.0 527.9" stroke="#222" stroke-width="0.62" stroke-linecap="round"/><path d="M236.5 559.9L238.2 548.6" stroke="#222" stroke-width="0.69" stroke-linecap="round"/><path d="M254.5 535.5L255.3 529.8" stroke="#222" stroke-width="1.17" stroke-linecap="round"/><path d="M232.2 574.4L233.5 565.8" stroke="#222" stroke-width="0.88" stroke-linecap="round"/><path d="M243.6 579.0L244.7 572.0" stroke="#222" stroke-width="0.87" stroke-linecap="round"/><path d="M245.5 553.5L246.6 546.4" stroke="#222" stroke-width="0.70" stroke-linecap="round"/><path d="M243.8 579.9L245.6 568.0" stroke="#222" stroke-width="0.84" stroke-linecap="round"/><path d="M238.8 559.2L241.2 543.4" stroke="#222" stroke-width="1.08" stroke-linecap="round"/><path d="M249.1 553.5L251.3 538.7" stroke="#222" stroke-width="1.13" stroke-linecap="round"/><path d="M243.4 574.5L245.4 561.1" stroke="#222" stroke-width="0.84" stroke-linecap="round"/><path d="M240.0 543.5L242.3 528.1" stroke="#222" stroke-width="1.00" stroke-linecap="round"/><path d="M226.2 568.3L227.9 557.0" stroke="#222" stroke-width="0.92" stroke-linecap="round"/><path d="M239.5 572.9L240.7 565.0" stroke="#222" stroke-width="0.84" stroke-linecap="round"/><path d="M236.4 559.5L238.7 543.8" stroke="#222" stroke-width="0.94" stroke-linecap="round"/><path d="M238.7 574.0L239.5 568.5" stroke="#222" stroke-width="1.16" stroke-linecap="round"/><path d="M217.7 557.4L218.7 550.5" stroke="#222" stroke-width="0.90" stroke-linecap="round"/></g>

<path class="s" d="M276.4 466.3L290.5 465.3"/>
<!-- 26 -->
<path class="d" d="M248.5 525.3L265.5 533.8"/>
<path class="w" d="M266 532L296 547.5L296 552.5L265.5 536.5Q264 534 266 532Z"/><path class="f" d="M295.5 546.5L299 545.5L302.5 548L302 552.5L298.5 554.5L295.5 552.5Z"/>
<path class="s" style="stroke-width:2.8;stroke-dasharray:1.2 0.6" d="M266.5 534L274 538"/>

<path class="s" d="M288.9 529.6L283.6 538.1"/>
</g>
<!-- 62 label + copyright -->

<path class="s" d="M26.3 484.6L70.1 566.4M90.5 573.6L211.3 563.6"/>


<!-- RIGHTGROUP -->
<!-- RIGHT BARREL -->
<path class="w" d="M558.8 213.8L666.7 146.5Q672.6 145.5 675.5 151Q677 157 673 160.5L570.5 224.4Z"/>
<ellipse cx="565" cy="219" rx="3.2" ry="7.6" transform="rotate(-32 565 219)" class="w"/>
<ellipse cx="561.5" cy="222" rx="3.4" ry="7.6" transform="rotate(-32 561.5 222)" fill="#333" stroke="#1a1a1a" stroke-width="1.6"/>
<ellipse cx="558" cy="224.5" rx="3.4" ry="7.2" transform="rotate(-32 558 224.5)" fill="#333" stroke="#1a1a1a" stroke-width="1.6"/>
<ellipse cx="552" cy="228.5" rx="5" ry="6.5" transform="rotate(-32 552 228.5)" class="w"/>
<ellipse cx="550.8" cy="229.2" rx="2.3" ry="3" transform="rotate(-32 550.8 229.2)" class="w" style="stroke-width:1.5"/>
<path class="t" style="stroke-dasharray:1 1.3" d="M572.8 210.3L601 192.7"/>
<path class="s" d="M636.5 183.8L638.5 182.5M653 154L655.5 156.5"/>
<path class="w" d="M643.7 137.1L645.2 140.9L652 146.9L672.3 136.4L673.1 132.6L669.3 129.6L657.3 134.1L645.2 136.4Z"/>
<path class="w" style="stroke-width:1.8" d="M652.8 129.6L654.3 125.1L663.3 122.8L667.8 124.3L669.3 129.6L657.3 134.1Z"/>
<path class="f" d="M653.5 128L655 125.5L659 124.5L657.5 132.5L654 131Z"/>
<path class="s" d="M645.2 137.5L651.5 140L672.5 132.8M651.5 140L652 146.9M652.6 146.9L654 155.2M658 127L666 125"/>
<path class="s" d="M644.5 119.5L650 119.8M639.5 135.5L645 135.5"/>
<path class="f" d="M650 117.5L653.5 117L654.3 120.5L653 124L651 121Z"/>
<path class="d" d="M545 240L556 236"/>

<!-- RIGHT FRAME -->
<path class="w" d="M463.8 247.6L474.5 240.1L491.4 234.4L502.7 226.9L508.4 220.7L519.1 218L525.8 218L530.5 220.7L533.2 225.4L533.8 229.4L535.2 234.1L539.2 238.8L542.5 243.5L542.5 248.8L539.2 251.5L534.5 254.2L530.5 256.9L527.1 260.9L529.1 267.6L527.1 274.3L521.8 279.6L511.1 287.7L460.2 328.2L458.5 304L457.7 303L456.5 323.1L447.7 320.6L445.2 291.7L455.5 287L455.6 272.7L456.9 262.7L459.4 253.9Z"/>
<path class="s" d="M445.2 291.7L452 289L457.7 295L457.7 303M452 289L452 322M457.7 300.5L461.5 297"/>
<path class="s" d="M461.9 255.1L460 262.7L459.4 272.7L460.7 281.5L462.6 290.3L465.1 300"/>
<path class="w" d="M463.8 247.6L470.7 245.7L480.1 252L480.8 255.1L477 255.1L462.6 254.5Z"/>
<path class="w" d="M470.7 245.7L475.1 241.3L491.4 248.2L488.9 250.1L480.1 252Z"/>
<path class="s" d="M495 232.8L519.1 222.7L523.1 226.1L532.5 227.4M519.1 222.7L519.8 218.5M480.8 255.1L483.6 254L511.9 241M490.2 247.6L495 243.5L519.1 234.8L523.1 233.4M492.7 243.8L502.7 237.6L509 235"/>
<path class="s" d="M483.6 254L484.7 257.3L486.8 261.6L485.7 268.2L484.7 270.4L472.7 276.9L466.1 281.3L462.9 285.6L465.1 291.1L471.6 294.3L481.4 295.4L490.1 293.2L492.3 287.8M486.8 278.5L509.7 270.3L521.1 275.6M492.3 287.8L511.1 280M466 262Q462 268 464 276"/>
<path class="f" d="M511.1 238L517 236.8L520.4 239L520 244.5L514 245L511 242Z"/>
<path class="s" style="stroke:#fff;stroke-width:0.6" d="M513 238L514.5 244.5M516 237.5L517.5 244.5"/>
<path class="w" d="M508.4 247.5L515.1 246.2L521.1 248.8L521.1 242.1L525.8 247.5L528.5 252.9L527.1 258.2L521.8 259.6L520.4 258.2L515.1 259.6L510.4 257.5L508.4 252.9Z"/>
<ellipse cx="514.4" cy="253.5" rx="2.6" ry="3.2" class="w"/>
<circle cx="525.8" cy="253.5" r="1.3" class="s"/>
<path class="s" d="M521.1 259.6L519.8 266.2L521.1 274.3L523.8 278.3M527 259.5L529 258L531 257"/>
<circle cx="508.4" cy="275.6" r="0.9" class="f"/>
<path class="f" d="M491.4 287L494 285.2L495.2 287.5L492.5 289Z"/>
<circle cx="471.5" cy="310.6" r="1.8" class="s"/>
<ellipse cx="487.9" cy="305.6" rx="1" ry="1.5" class="s"/>
<path class="s" d="M449 305L452 307M448.5 314L451.5 315M449 309L453 309"/>
<circle cx="448.5" cy="296" r="1" class="f"/>
<circle cx="462" cy="315" r="1" class="f"/>
<path class="w" d="M452 231L459 227.5Q463 227.5 463 231Q463 235 459.5 236L453 237.5Q451 235 452 231Z"/>
<ellipse cx="460" cy="232" rx="2.6" ry="3.8" transform="rotate(-25 460 232)" class="w"/>
<path class="s" style="stroke-width:2" d="M445.5 235L451 235.5"/>
<path class="s" d="M443 232.5L446 234.5M431 243L435 243"/>
<path class="s" d="M435 243L438 240.5L442 240L443.5 242M436 245L442 244"/>
<path class="s" style="stroke-width:2.2" d="M446.4 245.3L461.5 249"/>
<path class="s" d="M447 256L449.5 249"/>
<path class="d" d="M430 251.5L447.7 241.5L461.5 246.5M430 248L430 253"/>

<!-- RIGHT SMALL PARTS -->
<path class="w" d="M506.7 374.4L509.4 372.4L511.4 374.4L512.1 379.8L512.7 385.1L513.4 391.8L514.1 399.9L516.8 402.5L517.4 405.2L515.4 405.9L512.1 403.9L507.4 402.5L504.7 399.9L505.4 391.8L506 382.4L506 377.1Z"/>
<path class="f" d="M505 397L510 396L514 400L516.5 403L515.4 405.5L512 403.9L507.4 402.5L504.7 399.9Z"/>
<path class="s" d="M508 376L509.5 395"/>
<path class="w" d="M515.4 387.1L516.8 383.8L521.5 382.4L526.8 383.8L528.8 385.8L532.2 386.5L537.5 383.8L540.2 378.4L542.9 376.4L547.6 375.1L551.6 376.4L553 379.8L551.6 383.8L550.3 387.1L550.3 394.5L551.6 405.2L553 409.3L554.3 413.3L555.7 417.3L556.3 422.7L555 429.4L551.6 433.4L545.6 436.1L538.9 436.1L532.2 434.1L528.8 430.7L526.8 427.4L524.8 421.3L525.5 414.6L528.8 409.3L532.9 405.2L534.2 399.2L534.2 393.8L532.2 392.5L528.2 392.5L524.1 393.2L520.1 393.8L516.8 391.8L515.4 389.8Z"/>
<ellipse cx="521.8" cy="388" rx="6.2" ry="4.6" class="f"/>
<path d="M517.5 388.5L525 386M518.5 390.5L526 388" stroke="#fff" stroke-width="0.7"/>
<path class="s" d="M542.5 377.5Q546 381 550 380M543 381Q547 384 551.5 383M532.2 392.5Q538 392 542 389L550.3 387.1M540.2 393.8L538.9 402.5L536.2 410.6L532.9 416M527.5 418L528.2 424M530.2 418L530.8 424M532.9 416L540 418"/>
<ellipse cx="539.6" cy="421.3" rx="2" ry="2.7" class="s"/>
<ellipse cx="546.3" cy="422.7" rx="1.8" ry="2.7" class="s"/>
<circle cx="552.3" cy="427.4" r="1.8" class="s"/>
<circle cx="550" cy="411" r="0.7" class="f"/>
<path class="f" d="M529 428L534 429L535.5 434.5L532.2 434.1L529 431Z"/>
<path class="w" d="M581.6 391.5L586.3 390.4L589.8 386.9L593.3 385.7L595.6 389.2L594.9 395L596.8 398.5L600.3 399.7L601.5 403.2L598 406.7L596.8 412.6L600.3 417.2L605 420.3L603.8 421.9L598 420.3L594.5 416.1L591 412.6L587.5 411.4L582.8 409.1L581.6 405.5L583.9 400.9L585.1 397.4L582.8 395Z"/>
<path class="f" d="M583 404L588 402.5L590 406L587 409.5L583 408Z"/>
<path class="f" d="M591 393L594.5 392.5L596 397L592 398.5Z"/>
<circle cx="587" cy="396" r="1.2" class="s"/>

<!-- RIGHT GRIP FRAME -->
<path class="w" d="M564.5 455.6L567.1 454.4L565.8 446.6L573.6 437.5L580.1 437.5L581.4 441.4L578.8 445.3L583 444L587 443L593.1 446.6L622.9 412.8L630.7 411.5L635.9 415.4L634.6 420.6L625.5 433.6L622.9 438.8L628.1 446.6L630.7 457L628.1 467.3L621.6 473.8L613.8 475.1L606 471.2L600.8 467.3L595.6 472.5L590.5 480.3L587.9 490.7L586.6 503.7L587.9 514.1L593.1 519.3L595.6 525.8L594.4 532.3L585.3 540.1L573.6 547.9L563.2 554.4L556.7 555.7L554.1 550.5L552.8 529.7L553.3 508.9L555.4 488.1L559.3 469.9Z"/>
<path class="s" d="M567.1 454.4L571 449.2L578.8 445.3M571 449.2L585 448L593 452L594 458M581.4 441.4L588 444M593.1 446.6L596 451L627 416.5L634.6 420.6M596 451L597 460L600.8 467.3M599 456L628 423"/>
<path class="s" d="M620.3 441.4L624.2 451.8L622.9 462.1L617.7 468.6L611.2 469.9L606 467.3L601 461"/>
<path class="f" d="M613 427L620 419L622 421L615 429Z"/>
<path class="f" d="M607 434L612 429L613.5 431L608.5 436Z"/>
<path class="s" d="M569.7 464.7L565.8 480.3L564.5 503.7L564.5 527.1L568.4 537.5L572.3 541.4L581.4 536.2L590.5 528.4L593.1 523.2L587.9 516.7L584 508.9L584 490.7L586.6 480.3L592 474"/>
<path class="s" d="M572.5 466L568.5 482L567.5 504L567.5 526L571 535L576 537L586 529M588 476L581 482"/>
<path class="s" d="M572 478L579 476L580.5 485L577 500L575 516L571 517M574 485L578 485M576 490L571 492"/>
<circle cx="570.3" cy="521.5" r="2.8" class="w"/>
<path class="s" d="M576 470L581 466L586 468M583 462L584.5 466"/>
<circle cx="590.5" cy="466" r="0.9" class="f"/>
<circle cx="592.5" cy="523" r="0.9" class="s"/>
<path class="s" d="M580 500L587 497M580 504L587 501"/>
<path class="f" d="M551.5 462.5L558 456L559.5 457.5L553 464Z"/>

<!-- RIGHT GRIPS -->
<path class="w" d="M514.4 474.2C517.5 472.0 524.4 470.7 527.3 470.2C530.2 469.7 530.5 470.4 531.9 471.4C533.3 472.4 534.5 474.3 535.6 476.0C536.7 477.7 537.8 478.5 538.4 481.6C539.0 484.7 539.9 491.2 539.3 494.4C538.7 497.6 536.7 498.9 534.7 500.9C532.7 502.9 529.1 504.7 527.3 506.4C525.5 508.1 524.5 508.7 523.7 511.0C522.9 513.3 522.7 516.2 522.7 520.2C522.7 524.2 523.4 530.0 523.7 534.9C524.0 539.8 526.2 545.7 524.6 549.7C523.0 553.7 518.2 556.5 514.4 558.9C510.6 561.3 505.7 562.7 501.6 564.4C497.5 566.1 491.8 569.0 489.6 569.0C487.5 569.0 488.4 567.9 488.7 564.4C489.0 560.9 490.5 553.6 491.4 547.8C492.3 542.0 493.1 535.5 494.2 529.4C495.3 523.3 496.4 516.5 497.9 511.0C499.4 505.5 501.6 500.9 503.4 496.3C505.2 491.7 507.1 487.1 508.9 483.4C510.7 479.7 511.3 476.4 514.4 474.2Z"/>
<g><path d="M500.7 524.0L500.4 527.5" stroke="#222" stroke-width="1.04" stroke-linecap="round"/>
<path d="M531.1 495.8L531.0 498.6" stroke="#222" stroke-width="0.93" stroke-linecap="round"/>
<path d="M521.0 485.1L520.8 490.1" stroke="#222" stroke-width="0.97" stroke-linecap="round"/>
<path d="M491.9 545.1L491.2 549.9" stroke="#222" stroke-width="0.62" stroke-linecap="round"/>
<path d="M508.7 549.3L508.6 553.3" stroke="#222" stroke-width="1.22" stroke-linecap="round"/>
<path d="M510.8 532.1L510.4 535.3" stroke="#222" stroke-width="0.87" stroke-linecap="round"/>
<path d="M506.5 528.0L506.3 532.7" stroke="#222" stroke-width="1.08" stroke-linecap="round"/>
<path d="M497.0 555.2L496.7 562.0" stroke="#222" stroke-width="1.00" stroke-linecap="round"/>
<path d="M524.8 491.1L524.2 497.1" stroke="#222" stroke-width="0.80" stroke-linecap="round"/>
<path d="M491.9 554.6L490.5 561.5" stroke="#222" stroke-width="1.16" stroke-linecap="round"/>
<path d="M509.5 485.1L509.3 488.2" stroke="#222" stroke-width="1.21" stroke-linecap="round"/>
<path d="M509.3 530.5L508.8 532.9" stroke="#222" stroke-width="1.21" stroke-linecap="round"/>
<path d="M512.0 521.6L511.5 526.6" stroke="#222" stroke-width="0.99" stroke-linecap="round"/>
<path d="M514.4 512.8L513.4 518.3" stroke="#222" stroke-width="0.81" stroke-linecap="round"/>
<path d="M509.7 527.5L509.6 529.1" stroke="#222" stroke-width="1.04" stroke-linecap="round"/>
<path d="M512.3 537.3L512.0 540.8" stroke="#222" stroke-width="1.12" stroke-linecap="round"/>
<path d="M501.4 515.3L500.7 520.0" stroke="#222" stroke-width="0.85" stroke-linecap="round"/>
<path d="M504.5 506.7L503.8 511.4" stroke="#222" stroke-width="0.86" stroke-linecap="round"/>
<path d="M527.8 472.9L527.4 477.5" stroke="#222" stroke-width="0.82" stroke-linecap="round"/>
<path d="M500.0 549.6L499.4 552.4" stroke="#222" stroke-width="0.90" stroke-linecap="round"/>
<path d="M524.0 480.3L523.5 483.5" stroke="#222" stroke-width="1.18" stroke-linecap="round"/>
<path d="M510.9 554.7L510.5 557.2" stroke="#222" stroke-width="1.06" stroke-linecap="round"/>
<path d="M515.5 489.1L515.2 495.0" stroke="#222" stroke-width="0.73" stroke-linecap="round"/>
<path d="M502.8 550.0L502.5 555.0" stroke="#222" stroke-width="0.84" stroke-linecap="round"/>
<path d="M528.9 497.0L528.4 500.4" stroke="#222" stroke-width="0.89" stroke-linecap="round"/>
<path d="M499.9 543.9L499.4 550.0" stroke="#222" stroke-width="0.96" stroke-linecap="round"/>
<path d="M503.3 503.9L502.8 506.6" stroke="#222" stroke-width="1.01" stroke-linecap="round"/>
<path d="M503.2 550.2L503.2 552.0" stroke="#222" stroke-width="1.09" stroke-linecap="round"/>
<path d="M522.2 522.1L522.1 525.8" stroke="#222" stroke-width="1.03" stroke-linecap="round"/>
<path d="M506.0 495.1L505.2 501.4" stroke="#222" stroke-width="1.15" stroke-linecap="round"/>
<path d="M506.5 489.7L506.3 494.1" stroke="#222" stroke-width="0.72" stroke-linecap="round"/>
<path d="M532.3 475.1L531.8 478.1" stroke="#222" stroke-width="0.97" stroke-linecap="round"/>
<path d="M510.1 516.9L508.8 522.7" stroke="#222" stroke-width="0.64" stroke-linecap="round"/>
<path d="M514.1 501.4L513.6 504.6" stroke="#222" stroke-width="1.05" stroke-linecap="round"/>
<path d="M518.4 505.9L518.0 508.4" stroke="#222" stroke-width="0.69" stroke-linecap="round"/>
<path d="M516.8 540.9L516.1 544.5" stroke="#222" stroke-width="0.72" stroke-linecap="round"/>
<path d="M507.6 529.9L506.8 535.7" stroke="#222" stroke-width="1.16" stroke-linecap="round"/>
<path d="M520.2 512.8L519.8 516.4" stroke="#222" stroke-width="1.09" stroke-linecap="round"/>
<path d="M510.0 538.8L509.3 542.8" stroke="#222" stroke-width="0.98" stroke-linecap="round"/>
<path d="M523.9 477.3L523.4 481.1" stroke="#222" stroke-width="1.22" stroke-linecap="round"/>
<path d="M502.0 516.1L501.8 518.2" stroke="#222" stroke-width="1.06" stroke-linecap="round"/>
<path d="M522.5 542.7L521.6 547.3" stroke="#222" stroke-width="1.01" stroke-linecap="round"/>
<path d="M527.9 474.6L527.5 476.6" stroke="#222" stroke-width="1.22" stroke-linecap="round"/>
<path d="M531.3 482.2L530.8 488.3" stroke="#222" stroke-width="1.19" stroke-linecap="round"/>
<path d="M529.1 473.8L528.4 479.5" stroke="#222" stroke-width="1.10" stroke-linecap="round"/>
<path d="M494.1 544.2L492.7 550.8" stroke="#222" stroke-width="0.83" stroke-linecap="round"/>
<path d="M517.2 552.0L516.7 554.8" stroke="#222" stroke-width="0.77" stroke-linecap="round"/>
<path d="M519.9 544.7L519.3 548.3" stroke="#222" stroke-width="0.88" stroke-linecap="round"/>
<path d="M506.4 511.5L506.2 513.5" stroke="#222" stroke-width="1.28" stroke-linecap="round"/>
<path d="M509.6 544.0L509.4 546.4" stroke="#222" stroke-width="1.13" stroke-linecap="round"/>
<path d="M513.2 533.7L512.0 540.2" stroke="#222" stroke-width="0.67" stroke-linecap="round"/>
<path d="M514.9 514.0L513.9 519.4" stroke="#222" stroke-width="0.79" stroke-linecap="round"/>
<path d="M498.8 528.1L498.2 531.3" stroke="#222" stroke-width="1.08" stroke-linecap="round"/>
<path d="M508.1 487.2L507.5 490.7" stroke="#222" stroke-width="1.14" stroke-linecap="round"/>
<path d="M513.0 529.4L512.8 533.5" stroke="#222" stroke-width="1.18" stroke-linecap="round"/>
<path d="M516.9 517.8L516.6 523.2" stroke="#222" stroke-width="0.88" stroke-linecap="round"/>
<path d="M512.4 492.9L512.1 495.7" stroke="#222" stroke-width="1.07" stroke-linecap="round"/>
<path d="M534.2 495.4L533.2 501.7" stroke="#222" stroke-width="0.90" stroke-linecap="round"/>
<path d="M525.6 478.7L525.5 480.7" stroke="#222" stroke-width="0.80" stroke-linecap="round"/>
<path d="M506.7 527.5L505.6 532.7" stroke="#222" stroke-width="0.83" stroke-linecap="round"/>
<path d="M510.8 518.2L510.5 520.9" stroke="#222" stroke-width="1.27" stroke-linecap="round"/>
<path d="M508.5 524.0L508.1 526.1" stroke="#222" stroke-width="1.07" stroke-linecap="round"/>
<path d="M494.4 557.9L493.1 564.4" stroke="#222" stroke-width="1.26" stroke-linecap="round"/>
<path d="M507.6 546.5L506.7 552.2" stroke="#222" stroke-width="1.07" stroke-linecap="round"/>
<path d="M515.8 481.4L515.2 485.6" stroke="#222" stroke-width="1.10" stroke-linecap="round"/>
<path d="M523.0 526.2L522.8 528.7" stroke="#222" stroke-width="1.04" stroke-linecap="round"/>
<path d="M497.8 558.1L496.8 563.2" stroke="#222" stroke-width="1.25" stroke-linecap="round"/>
<path d="M516.8 534.2L516.1 538.2" stroke="#222" stroke-width="0.72" stroke-linecap="round"/>
<path d="M532.9 474.4L532.1 478.6" stroke="#222" stroke-width="1.14" stroke-linecap="round"/>
<path d="M506.6 503.1L506.2 506.8" stroke="#222" stroke-width="1.14" stroke-linecap="round"/>
<path d="M506.6 553.9L506.2 556.0" stroke="#222" stroke-width="0.67" stroke-linecap="round"/>
<path d="M494.4 547.2L493.4 552.7" stroke="#222" stroke-width="0.73" stroke-linecap="round"/>
<path d="M509.8 543.6L509.4 549.6" stroke="#222" stroke-width="1.01" stroke-linecap="round"/>
<path d="M498.5 522.3L497.7 527.0" stroke="#222" stroke-width="0.78" stroke-linecap="round"/>
<path d="M528.3 473.2L528.0 479.1" stroke="#222" stroke-width="1.26" stroke-linecap="round"/>
<path d="M508.1 524.8L507.6 529.5" stroke="#222" stroke-width="1.28" stroke-linecap="round"/>
<path d="M523.4 499.8L522.7 506.0" stroke="#222" stroke-width="1.02" stroke-linecap="round"/>
<path d="M513.6 521.9L512.9 526.0" stroke="#222" stroke-width="0.97" stroke-linecap="round"/>
<path d="M521.4 514.1L521.3 518.7" stroke="#222" stroke-width="1.22" stroke-linecap="round"/>
<path d="M495.6 548.5L494.5 553.4" stroke="#222" stroke-width="0.85" stroke-linecap="round"/>
<path d="M505.0 556.2L504.0 561.5" stroke="#222" stroke-width="1.20" stroke-linecap="round"/>
<path d="M506.1 549.9L505.8 556.5" stroke="#222" stroke-width="0.91" stroke-linecap="round"/>
<path d="M496.8 519.3L496.2 524.7" stroke="#222" stroke-width="0.90" stroke-linecap="round"/>
<path d="M521.6 500.3L521.3 504.4" stroke="#222" stroke-width="0.88" stroke-linecap="round"/>
<path d="M497.8 559.1L497.0 564.5" stroke="#222" stroke-width="0.86" stroke-linecap="round"/>
<path d="M515.5 529.1L514.9 531.9" stroke="#222" stroke-width="0.75" stroke-linecap="round"/>
<path d="M528.3 484.4L527.6 488.4" stroke="#222" stroke-width="0.75" stroke-linecap="round"/>
<path d="M513.5 476.1L513.3 477.7" stroke="#222" stroke-width="0.89" stroke-linecap="round"/>
<path d="M524.3 475.3L523.8 479.0" stroke="#222" stroke-width="0.62" stroke-linecap="round"/>
<path d="M537.6 491.8L537.3 493.8" stroke="#222" stroke-width="0.72" stroke-linecap="round"/>
<path d="M520.2 504.4L519.7 506.6" stroke="#222" stroke-width="1.11" stroke-linecap="round"/>
<path d="M502.6 548.0L502.5 552.1" stroke="#222" stroke-width="0.81" stroke-linecap="round"/>
<path d="M534.3 490.0L533.4 496.9" stroke="#222" stroke-width="1.16" stroke-linecap="round"/>
<path d="M531.7 481.5L531.1 485.2" stroke="#222" stroke-width="1.08" stroke-linecap="round"/>
<path d="M535.7 487.5L535.3 493.0" stroke="#222" stroke-width="1.18" stroke-linecap="round"/>
<path d="M507.1 511.2L506.9 513.9" stroke="#222" stroke-width="0.94" stroke-linecap="round"/>
<path d="M524.7 472.5L524.4 476.5" stroke="#222" stroke-width="1.07" stroke-linecap="round"/>
<path d="M521.5 494.0L521.2 495.7" stroke="#222" stroke-width="1.05" stroke-linecap="round"/>
<path d="M499.8 525.8L499.6 529.6" stroke="#222" stroke-width="1.02" stroke-linecap="round"/>
<path d="M492.7 551.8L492.2 553.9" stroke="#222" stroke-width="1.28" stroke-linecap="round"/>
<path d="M498.8 558.5L498.5 560.4" stroke="#222" stroke-width="0.76" stroke-linecap="round"/>
<path d="M521.2 545.4L520.2 551.7" stroke="#222" stroke-width="1.02" stroke-linecap="round"/>
<path d="M511.2 481.2L510.6 487.3" stroke="#222" stroke-width="1.17" stroke-linecap="round"/>
<path d="M499.1 523.5L498.8 527.5" stroke="#222" stroke-width="0.65" stroke-linecap="round"/>
<path d="M506.2 518.1L506.0 520.0" stroke="#222" stroke-width="1.11" stroke-linecap="round"/>
<path d="M510.1 534.3L509.2 539.1" stroke="#222" stroke-width="0.85" stroke-linecap="round"/>
<path d="M515.8 511.6L515.5 518.3" stroke="#222" stroke-width="1.26" stroke-linecap="round"/>
<path d="M513.2 546.6L513.1 550.4" stroke="#222" stroke-width="1.24" stroke-linecap="round"/>
<path d="M525.3 499.3L524.8 503.6" stroke="#222" stroke-width="0.63" stroke-linecap="round"/>
<path d="M526.4 497.5L525.8 501.3" stroke="#222" stroke-width="1.12" stroke-linecap="round"/>
<path d="M526.5 498.6L526.2 500.7" stroke="#222" stroke-width="0.89" stroke-linecap="round"/>
<path d="M512.1 522.2L511.5 526.6" stroke="#222" stroke-width="1.20" stroke-linecap="round"/>
<path d="M503.1 516.0L502.8 522.3" stroke="#222" stroke-width="0.81" stroke-linecap="round"/>
<path d="M501.0 549.9L500.7 551.5" stroke="#222" stroke-width="0.97" stroke-linecap="round"/>
<path d="M515.8 486.6L515.5 488.4" stroke="#222" stroke-width="1.14" stroke-linecap="round"/>
<path d="M516.3 479.5L515.8 482.7" stroke="#222" stroke-width="1.16" stroke-linecap="round"/>
<path d="M509.9 495.9L509.6 497.7" stroke="#222" stroke-width="1.04" stroke-linecap="round"/>
<path d="M529.6 494.6L529.5 496.9" stroke="#222" stroke-width="1.15" stroke-linecap="round"/>
<path d="M514.4 552.3L513.7 556.8" stroke="#222" stroke-width="0.72" stroke-linecap="round"/>
<path d="M512.4 536.0L512.0 542.6" stroke="#222" stroke-width="1.02" stroke-linecap="round"/>
<path d="M509.7 521.4L509.2 523.9" stroke="#222" stroke-width="1.08" stroke-linecap="round"/>
<path d="M509.4 505.0L509.1 509.0" stroke="#222" stroke-width="0.92" stroke-linecap="round"/>
<path d="M537.2 485.5L536.9 488.8" stroke="#222" stroke-width="0.89" stroke-linecap="round"/>
<path d="M516.5 518.4L516.3 521.4" stroke="#222" stroke-width="1.24" stroke-linecap="round"/>
<path d="M493.9 536.3L493.5 539.8" stroke="#222" stroke-width="1.23" stroke-linecap="round"/>
<path d="M498.6 561.2L498.2 563.7" stroke="#222" stroke-width="1.18" stroke-linecap="round"/>
<path d="M504.7 497.0L504.5 503.7" stroke="#222" stroke-width="0.82" stroke-linecap="round"/>
<path d="M508.6 498.1L508.2 500.3" stroke="#222" stroke-width="1.29" stroke-linecap="round"/>
<path d="M515.3 543.6L514.8 549.7" stroke="#222" stroke-width="1.17" stroke-linecap="round"/>
<path d="M502.2 517.9L501.9 520.9" stroke="#222" stroke-width="0.63" stroke-linecap="round"/>
<path d="M496.0 559.7L495.9 562.1" stroke="#222" stroke-width="1.07" stroke-linecap="round"/>
<path d="M521.4 484.3L521.3 486.1" stroke="#222" stroke-width="0.72" stroke-linecap="round"/>
<path d="M498.3 551.5L497.0 557.8" stroke="#222" stroke-width="1.27" stroke-linecap="round"/>
<path d="M515.8 508.0L515.5 510.1" stroke="#222" stroke-width="1.29" stroke-linecap="round"/>
<path d="M513.2 539.7L512.5 542.9" stroke="#222" stroke-width="0.84" stroke-linecap="round"/>
<path d="M517.5 516.0L516.9 520.5" stroke="#222" stroke-width="0.97" stroke-linecap="round"/>
<path d="M530.8 490.0L530.7 494.8" stroke="#222" stroke-width="1.19" stroke-linecap="round"/>
<path d="M515.3 545.9L515.1 547.9" stroke="#222" stroke-width="0.91" stroke-linecap="round"/>
<path d="M496.1 529.5L495.7 532.8" stroke="#222" stroke-width="0.86" stroke-linecap="round"/>
<path d="M504.8 505.6L504.7 510.4" stroke="#222" stroke-width="1.26" stroke-linecap="round"/>
<path d="M514.0 542.5L513.7 545.9" stroke="#222" stroke-width="0.80" stroke-linecap="round"/>
<path d="M512.9 522.7L512.7 529.0" stroke="#222" stroke-width="0.97" stroke-linecap="round"/>
<path d="M511.0 531.2L510.8 533.1" stroke="#222" stroke-width="1.19" stroke-linecap="round"/>
<path d="M528.0 476.1L527.1 482.3" stroke="#222" stroke-width="1.29" stroke-linecap="round"/>
<path d="M507.3 491.4L507.1 495.9" stroke="#222" stroke-width="0.90" stroke-linecap="round"/>
<path d="M507.0 499.9L506.4 504.2" stroke="#222" stroke-width="0.86" stroke-linecap="round"/>
<path d="M518.3 484.6L517.9 487.4" stroke="#222" stroke-width="1.03" stroke-linecap="round"/>
<path d="M504.9 498.2L504.7 499.8" stroke="#222" stroke-width="1.24" stroke-linecap="round"/>
<path d="M515.7 543.1L515.4 549.1" stroke="#222" stroke-width="1.24" stroke-linecap="round"/>
<path d="M511.0 537.6L510.9 539.8" stroke="#222" stroke-width="0.86" stroke-linecap="round"/>
<path d="M530.8 488.3L530.4 491.4" stroke="#222" stroke-width="0.96" stroke-linecap="round"/>
<path d="M510.6 532.3L509.9 537.4" stroke="#222" stroke-width="0.67" stroke-linecap="round"/>
<path d="M513.0 511.9L512.6 518.3" stroke="#222" stroke-width="0.83" stroke-linecap="round"/>
<path d="M509.9 527.8L508.7 534.1" stroke="#222" stroke-width="0.87" stroke-linecap="round"/>
<path d="M490.0 562.6L489.6 567.0" stroke="#222" stroke-width="0.66" stroke-linecap="round"/>
<path d="M500.5 516.5L499.8 522.7" stroke="#222" stroke-width="0.80" stroke-linecap="round"/>
<path d="M515.4 490.2L515.3 493.3" stroke="#222" stroke-width="0.69" stroke-linecap="round"/>
<path d="M515.6 531.5L515.4 534.9" stroke="#222" stroke-width="1.24" stroke-linecap="round"/>
<path d="M510.6 501.0L510.5 503.6" stroke="#222" stroke-width="0.75" stroke-linecap="round"/>
<path d="M494.8 560.5L494.1 564.1" stroke="#222" stroke-width="0.73" stroke-linecap="round"/>
<path d="M508.1 554.3L506.9 560.4" stroke="#222" stroke-width="0.88" stroke-linecap="round"/>
<path d="M508.4 487.8L507.9 490.6" stroke="#222" stroke-width="1.09" stroke-linecap="round"/>
<path d="M499.9 513.9L499.1 518.5" stroke="#222" stroke-width="1.09" stroke-linecap="round"/>
<path d="M499.6 536.5L498.7 541.3" stroke="#222" stroke-width="1.13" stroke-linecap="round"/>
<path d="M508.6 523.5L508.2 528.3" stroke="#222" stroke-width="0.91" stroke-linecap="round"/>
<path d="M491.5 547.9L490.8 554.2" stroke="#222" stroke-width="1.01" stroke-linecap="round"/>
<path d="M502.3 559.0L501.4 564.3" stroke="#222" stroke-width="1.17" stroke-linecap="round"/>
<path d="M497.7 541.0L497.5 544.4" stroke="#222" stroke-width="1.01" stroke-linecap="round"/>
<path d="M518.2 551.6L517.7 554.2" stroke="#222" stroke-width="1.13" stroke-linecap="round"/>
<path d="M516.7 500.1L516.4 506.5" stroke="#222" stroke-width="0.98" stroke-linecap="round"/>
<path d="M526.6 499.0L526.4 500.5" stroke="#222" stroke-width="1.11" stroke-linecap="round"/>
<path d="M506.4 517.5L505.7 522.1" stroke="#222" stroke-width="1.09" stroke-linecap="round"/>
<path d="M517.2 508.3L516.9 510.4" stroke="#222" stroke-width="0.82" stroke-linecap="round"/>
<path d="M525.4 487.2L524.7 490.9" stroke="#222" stroke-width="0.89" stroke-linecap="round"/>
<path d="M517.9 480.8L517.6 482.6" stroke="#222" stroke-width="0.74" stroke-linecap="round"/>
<path d="M514.3 486.7L514.0 488.8" stroke="#222" stroke-width="1.25" stroke-linecap="round"/>
<path d="M502.7 501.2L501.4 507.9" stroke="#222" stroke-width="1.26" stroke-linecap="round"/>
<path d="M512.8 513.1L512.7 516.0" stroke="#222" stroke-width="0.73" stroke-linecap="round"/>
<path d="M517.6 520.7L517.2 523.3" stroke="#222" stroke-width="1.29" stroke-linecap="round"/>
<path d="M534.4 479.9L534.0 485.3" stroke="#222" stroke-width="0.76" stroke-linecap="round"/>
<path d="M505.2 545.5L505.0 547.9" stroke="#222" stroke-width="0.79" stroke-linecap="round"/>
<path d="M514.4 507.0L514.0 513.3" stroke="#222" stroke-width="0.95" stroke-linecap="round"/>
<path d="M523.5 512.5L522.5 518.4" stroke="#222" stroke-width="0.98" stroke-linecap="round"/>
<path d="M518.3 508.5L518.0 510.3" stroke="#222" stroke-width="1.05" stroke-linecap="round"/>
<path d="M499.4 545.1L499.3 549.4" stroke="#222" stroke-width="1.19" stroke-linecap="round"/>
<path d="M525.5 507.0L525.3 508.7" stroke="#222" stroke-width="1.12" stroke-linecap="round"/>
<path d="M535.3 490.2L535.2 492.6" stroke="#222" stroke-width="1.12" stroke-linecap="round"/>
<path d="M513.2 543.2L513.0 545.5" stroke="#222" stroke-width="1.07" stroke-linecap="round"/>
<path d="M519.3 486.1L519.0 488.4" stroke="#222" stroke-width="1.22" stroke-linecap="round"/>
<path d="M492.9 547.8L492.4 551.4" stroke="#222" stroke-width="1.30" stroke-linecap="round"/>
<path d="M519.6 496.2L518.4 501.6" stroke="#222" stroke-width="0.80" stroke-linecap="round"/>
<path d="M524.1 487.1L523.9 488.8" stroke="#222" stroke-width="0.83" stroke-linecap="round"/>
<path d="M522.5 502.5L522.1 505.2" stroke="#222" stroke-width="1.16" stroke-linecap="round"/>
<path d="M506.2 492.9L505.4 496.7" stroke="#222" stroke-width="0.82" stroke-linecap="round"/>
<path d="M517.7 524.1L516.9 528.9" stroke="#222" stroke-width="0.62" stroke-linecap="round"/>
<path d="M498.6 526.4L498.4 529.4" stroke="#222" stroke-width="1.02" stroke-linecap="round"/>
<path d="M522.2 542.9L521.6 547.2" stroke="#222" stroke-width="0.82" stroke-linecap="round"/>
<path d="M491.9 548.7L491.0 552.9" stroke="#222" stroke-width="1.25" stroke-linecap="round"/>
<path d="M518.1 531.8L517.4 535.7" stroke="#222" stroke-width="1.30" stroke-linecap="round"/>
<path d="M514.0 517.6L513.9 520.5" stroke="#222" stroke-width="0.89" stroke-linecap="round"/>
<path d="M504.1 516.9L503.6 520.0" stroke="#222" stroke-width="0.69" stroke-linecap="round"/>
<path d="M520.4 479.0L518.9 485.8" stroke="#222" stroke-width="1.27" stroke-linecap="round"/>
<path d="M520.6 478.4L520.0 483.6" stroke="#222" stroke-width="1.27" stroke-linecap="round"/>
<path d="M510.0 540.4L509.4 545.0" stroke="#222" stroke-width="0.93" stroke-linecap="round"/>
<path d="M519.1 473.1L518.9 476.2" stroke="#222" stroke-width="0.78" stroke-linecap="round"/>
<path d="M512.6 495.6L512.3 499.0" stroke="#222" stroke-width="1.12" stroke-linecap="round"/>
<path d="M518.3 530.6L517.8 533.4" stroke="#222" stroke-width="0.67" stroke-linecap="round"/>
<path d="M497.7 519.7L497.6 522.6" stroke="#222" stroke-width="1.00" stroke-linecap="round"/>
<path d="M505.9 512.8L505.8 514.5" stroke="#222" stroke-width="1.13" stroke-linecap="round"/>
<path d="M507.1 541.9L506.6 544.9" stroke="#222" stroke-width="0.76" stroke-linecap="round"/>
<path d="M498.7 530.1L498.3 535.1" stroke="#222" stroke-width="0.67" stroke-linecap="round"/>
<path d="M507.9 519.9L507.2 523.8" stroke="#222" stroke-width="0.88" stroke-linecap="round"/>
<path d="M521.4 540.9L520.2 547.4" stroke="#222" stroke-width="1.22" stroke-linecap="round"/>
<path d="M538.3 483.8L538.0 489.6" stroke="#222" stroke-width="0.69" stroke-linecap="round"/>
<path d="M503.5 554.7L502.7 561.2" stroke="#222" stroke-width="0.70" stroke-linecap="round"/>
<path d="M499.6 552.2L499.0 556.0" stroke="#222" stroke-width="0.91" stroke-linecap="round"/>
<path d="M535.7 495.3L535.6 496.9" stroke="#222" stroke-width="0.82" stroke-linecap="round"/>
<path d="M533.6 494.3L533.5 497.0" stroke="#222" stroke-width="0.76" stroke-linecap="round"/>
<path d="M516.1 525.5L515.7 529.2" stroke="#222" stroke-width="0.81" stroke-linecap="round"/>
<path d="M491.5 559.6L491.1 562.5" stroke="#222" stroke-width="1.26" stroke-linecap="round"/>
<path d="M498.8 561.4L498.6 564.6" stroke="#222" stroke-width="0.67" stroke-linecap="round"/>
<path d="M506.2 534.9L505.4 539.6" stroke="#222" stroke-width="0.69" stroke-linecap="round"/>
<path d="M516.2 510.4L515.6 513.7" stroke="#222" stroke-width="0.94" stroke-linecap="round"/>
<path d="M508.1 521.1L507.2 527.3" stroke="#222" stroke-width="0.85" stroke-linecap="round"/>
<path d="M516.3 517.5L515.7 521.8" stroke="#222" stroke-width="0.93" stroke-linecap="round"/>
<path d="M524.9 488.6L523.5 495.5" stroke="#222" stroke-width="1.21" stroke-linecap="round"/>
<path d="M497.6 548.8L497.0 551.7" stroke="#222" stroke-width="0.98" stroke-linecap="round"/>
<path d="M494.1 544.8L493.8 548.8" stroke="#222" stroke-width="1.16" stroke-linecap="round"/>
<path d="M492.8 558.2L492.4 560.2" stroke="#222" stroke-width="1.18" stroke-linecap="round"/>
<path d="M502.9 535.6L502.6 537.3" stroke="#222" stroke-width="1.10" stroke-linecap="round"/>
<path d="M536.1 491.4L535.8 496.8" stroke="#222" stroke-width="1.03" stroke-linecap="round"/>
<path d="M499.7 528.2L499.6 530.4" stroke="#222" stroke-width="0.91" stroke-linecap="round"/>
<path d="M515.1 536.3L514.9 538.6" stroke="#222" stroke-width="1.16" stroke-linecap="round"/>
<path d="M532.2 498.0L531.7 500.8" stroke="#222" stroke-width="1.23" stroke-linecap="round"/>
<path d="M510.9 508.7L510.5 513.1" stroke="#222" stroke-width="0.82" stroke-linecap="round"/>
<path d="M505.7 545.9L504.8 551.7" stroke="#222" stroke-width="0.65" stroke-linecap="round"/>
<path d="M518.8 510.2L517.9 517.0" stroke="#222" stroke-width="0.75" stroke-linecap="round"/>
<path d="M519.1 506.2L518.5 512.9" stroke="#222" stroke-width="0.92" stroke-linecap="round"/>
<path d="M522.1 529.7L521.5 534.5" stroke="#222" stroke-width="0.97" stroke-linecap="round"/>
<path d="M513.6 552.3L513.4 554.9" stroke="#222" stroke-width="0.81" stroke-linecap="round"/></g>
<path class="s" style="stroke-width:0.9" d="M528 474Q524 490 522 511M536 478Q532 488 530 500M512 480Q505 500 502 530Q500 545 498 560"/>
<path d="M634.9 476.7C637.0 475.3 643.4 471.2 646.4 470.5C649.4 469.8 650.7 471.6 652.6 472.5C654.5 473.4 656.5 474.3 657.9 475.7C659.3 477.1 660.3 478.6 661.0 480.9C661.7 483.2 662.2 487.0 662.0 489.3C661.8 491.6 660.9 492.9 660.0 494.5C659.1 496.1 657.7 497.1 656.8 498.7C655.9 500.3 655.2 501.3 654.7 503.9C654.2 506.5 653.7 510.9 653.7 514.4C653.7 517.9 654.2 521.3 654.7 524.8C655.2 528.3 656.1 532.2 656.8 535.3C657.5 538.4 658.4 541.2 658.9 543.6C659.4 546.0 660.4 547.8 660.0 549.9C659.6 552.0 658.4 554.1 656.8 556.2C655.2 558.3 653.3 560.3 650.5 562.4C647.7 564.5 643.6 566.6 640.1 568.7C636.6 570.8 632.4 573.4 629.6 575.0C626.8 576.6 624.6 578.3 623.4 578.1C622.2 577.9 622.3 577.0 622.3 574.0C622.3 571.0 623.0 566.2 623.4 560.4C623.8 554.6 624.0 546.4 624.4 539.4C624.8 532.4 625.0 524.8 625.5 518.5C626.0 512.2 626.6 507.0 627.5 501.8C628.4 496.6 629.7 491.0 630.7 487.2C631.8 483.4 633.1 480.6 633.8 478.8C634.5 477.1 632.8 478.1 634.9 476.7Z" fill="#1c1c1c" stroke="#111" stroke-width="1.2"/>
<g><path d="M647.0 550.3L646.4 561.5" stroke="#fff" stroke-width="0.78" stroke-linecap="round"/>
<path d="M626.8 521.0L626.1 527.2" stroke="#fff" stroke-width="0.71" stroke-linecap="round"/>
<path d="M653.9 485.4L652.3 495.0" stroke="#fff" stroke-width="0.45" stroke-linecap="round"/>
<path d="M656.9 493.0L656.6 499.0" stroke="#fff" stroke-width="0.84" stroke-linecap="round"/>
<path d="M643.7 543.4L643.4 549.3" stroke="#fff" stroke-width="0.76" stroke-linecap="round"/>
<path d="M634.2 509.4L633.2 514.9" stroke="#fff" stroke-width="0.48" stroke-linecap="round"/>
<path d="M634.3 535.4L633.9 539.4" stroke="#fff" stroke-width="0.60" stroke-linecap="round"/>
<path d="M634.6 558.6L633.4 566.9" stroke="#fff" stroke-width="0.67" stroke-linecap="round"/>
<path d="M650.3 476.6L647.9 489.4" stroke="#fff" stroke-width="0.79" stroke-linecap="round"/>
<path d="M653.6 509.9L651.8 519.1" stroke="#fff" stroke-width="0.47" stroke-linecap="round"/>
<path d="M636.0 508.7L635.3 517.4" stroke="#fff" stroke-width="0.50" stroke-linecap="round"/>
<path d="M659.8 480.3L659.1 487.4" stroke="#fff" stroke-width="0.86" stroke-linecap="round"/>
<path d="M634.9 489.6L634.1 494.3" stroke="#fff" stroke-width="0.76" stroke-linecap="round"/>
<path d="M631.7 534.4L630.3 545.8" stroke="#fff" stroke-width="0.64" stroke-linecap="round"/>
<path d="M624.5 569.1L624.0 573.4" stroke="#fff" stroke-width="0.83" stroke-linecap="round"/>
<path d="M627.5 549.2L626.2 561.8" stroke="#fff" stroke-width="0.80" stroke-linecap="round"/>
<path d="M626.5 517.3L626.1 522.6" stroke="#fff" stroke-width="0.58" stroke-linecap="round"/>
<path d="M640.3 523.0L639.0 533.6" stroke="#fff" stroke-width="0.58" stroke-linecap="round"/>
<path d="M638.3 486.3L637.9 493.7" stroke="#fff" stroke-width="0.88" stroke-linecap="round"/>
<path d="M647.2 524.2L645.9 531.3" stroke="#fff" stroke-width="0.57" stroke-linecap="round"/>
<path d="M636.6 555.1L635.6 566.1" stroke="#fff" stroke-width="0.75" stroke-linecap="round"/>
<path d="M652.5 509.6L650.9 519.9" stroke="#fff" stroke-width="0.67" stroke-linecap="round"/>
<path d="M652.9 544.8L652.5 551.5" stroke="#fff" stroke-width="0.74" stroke-linecap="round"/>
<path d="M645.4 471.7L644.0 480.7" stroke="#fff" stroke-width="0.75" stroke-linecap="round"/>
<path d="M640.7 558.4L639.9 568.2" stroke="#fff" stroke-width="0.61" stroke-linecap="round"/>
<path d="M647.9 549.9L646.3 561.3" stroke="#fff" stroke-width="0.83" stroke-linecap="round"/>
<path d="M642.9 527.5L642.5 533.0" stroke="#fff" stroke-width="0.87" stroke-linecap="round"/>
<path d="M641.2 544.9L640.3 555.4" stroke="#fff" stroke-width="0.53" stroke-linecap="round"/>
<path d="M653.3 533.0L652.0 543.0" stroke="#fff" stroke-width="0.73" stroke-linecap="round"/>
<path d="M653.1 539.0L651.1 549.5" stroke="#fff" stroke-width="0.52" stroke-linecap="round"/>
<path d="M639.8 540.5L639.2 546.4" stroke="#fff" stroke-width="0.73" stroke-linecap="round"/>
<path d="M627.6 504.6L626.7 510.3" stroke="#fff" stroke-width="0.47" stroke-linecap="round"/>
<path d="M640.8 511.4L639.8 520.9" stroke="#fff" stroke-width="0.56" stroke-linecap="round"/>
<path d="M638.4 500.5L637.1 508.2" stroke="#fff" stroke-width="0.82" stroke-linecap="round"/>
<path d="M646.7 480.7L645.4 489.6" stroke="#fff" stroke-width="0.71" stroke-linecap="round"/>
<path d="M638.9 558.0L637.6 567.8" stroke="#fff" stroke-width="0.51" stroke-linecap="round"/>
<path d="M646.0 531.2L645.3 543.8" stroke="#fff" stroke-width="0.72" stroke-linecap="round"/>
<path d="M636.2 566.6L635.5 570.6" stroke="#fff" stroke-width="0.70" stroke-linecap="round"/>
<path d="M646.7 485.6L646.1 495.3" stroke="#fff" stroke-width="0.62" stroke-linecap="round"/>
<path d="M639.4 494.9L639.1 501.5" stroke="#fff" stroke-width="0.62" stroke-linecap="round"/>
<path d="M646.0 498.5L644.4 511.3" stroke="#fff" stroke-width="0.64" stroke-linecap="round"/>
<path d="M641.8 501.3L640.4 509.6" stroke="#fff" stroke-width="0.73" stroke-linecap="round"/>
<path d="M639.9 502.0L639.1 513.1" stroke="#fff" stroke-width="0.46" stroke-linecap="round"/>
<path d="M643.4 500.0L642.4 512.4" stroke="#fff" stroke-width="0.56" stroke-linecap="round"/>
<path d="M632.9 487.2L631.0 500.1" stroke="#fff" stroke-width="0.72" stroke-linecap="round"/>
<path d="M641.1 539.9L640.3 549.3" stroke="#fff" stroke-width="0.50" stroke-linecap="round"/>
<path d="M652.5 502.9L651.2 511.7" stroke="#fff" stroke-width="0.58" stroke-linecap="round"/>
<path d="M643.3 520.5L642.7 527.7" stroke="#fff" stroke-width="0.72" stroke-linecap="round"/>
<path d="M639.3 532.4L638.2 542.8" stroke="#fff" stroke-width="0.67" stroke-linecap="round"/>
<path d="M637.9 562.2L637.0 567.9" stroke="#fff" stroke-width="0.82" stroke-linecap="round"/>
<path d="M624.9 560.5L623.6 570.7" stroke="#fff" stroke-width="0.58" stroke-linecap="round"/>
<path d="M628.0 522.0L626.9 530.9" stroke="#fff" stroke-width="0.60" stroke-linecap="round"/>
<path d="M628.4 533.5L626.4 544.8" stroke="#fff" stroke-width="0.55" stroke-linecap="round"/>
<path d="M624.2 561.1L623.6 567.1" stroke="#fff" stroke-width="0.88" stroke-linecap="round"/>
<path d="M650.6 485.0L650.2 491.6" stroke="#fff" stroke-width="0.52" stroke-linecap="round"/>
<path d="M646.5 515.0L646.0 520.5" stroke="#fff" stroke-width="0.47" stroke-linecap="round"/>
<path d="M645.1 550.4L643.1 562.3" stroke="#fff" stroke-width="0.64" stroke-linecap="round"/>
<path d="M634.8 535.1L634.3 543.5" stroke="#fff" stroke-width="0.62" stroke-linecap="round"/>
<path d="M624.5 545.5L624.0 550.9" stroke="#fff" stroke-width="0.68" stroke-linecap="round"/>
<path d="M646.9 498.8L645.6 507.8" stroke="#fff" stroke-width="0.79" stroke-linecap="round"/>
<path d="M642.8 484.9L642.0 491.0" stroke="#fff" stroke-width="0.78" stroke-linecap="round"/>
<path d="M629.4 547.3L627.7 557.1" stroke="#fff" stroke-width="0.75" stroke-linecap="round"/>
<path d="M645.9 496.2L644.4 508.1" stroke="#fff" stroke-width="0.60" stroke-linecap="round"/>
<path d="M653.9 473.7L652.0 484.2" stroke="#fff" stroke-width="0.52" stroke-linecap="round"/>
<path d="M654.9 485.5L653.5 495.2" stroke="#fff" stroke-width="0.56" stroke-linecap="round"/>
<path d="M635.5 536.5L634.6 543.7" stroke="#fff" stroke-width="0.51" stroke-linecap="round"/>
<path d="M655.3 540.2L653.8 551.5" stroke="#fff" stroke-width="0.83" stroke-linecap="round"/>
<path d="M642.8 534.3L642.1 543.4" stroke="#fff" stroke-width="0.63" stroke-linecap="round"/>
<path d="M640.8 481.2L639.9 486.6" stroke="#fff" stroke-width="0.62" stroke-linecap="round"/>
<path d="M637.6 565.2L636.8 570.6" stroke="#fff" stroke-width="0.57" stroke-linecap="round"/>
<path d="M628.7 501.4L628.0 507.5" stroke="#fff" stroke-width="0.46" stroke-linecap="round"/>
<path d="M649.1 521.3L646.9 533.8" stroke="#fff" stroke-width="0.75" stroke-linecap="round"/>
<path d="M633.9 543.1L632.1 553.6" stroke="#fff" stroke-width="0.54" stroke-linecap="round"/>
<path d="M634.7 520.9L634.1 527.4" stroke="#fff" stroke-width="0.77" stroke-linecap="round"/>
<path d="M628.8 496.4L628.2 506.4" stroke="#fff" stroke-width="0.74" stroke-linecap="round"/>
<path d="M653.2 514.6L652.7 519.0" stroke="#fff" stroke-width="0.90" stroke-linecap="round"/>
<path d="M642.9 508.2L642.0 513.0" stroke="#fff" stroke-width="0.85" stroke-linecap="round"/>
<path d="M638.5 503.4L637.7 507.9" stroke="#fff" stroke-width="0.89" stroke-linecap="round"/>
<path d="M629.4 525.2L628.5 532.8" stroke="#fff" stroke-width="0.49" stroke-linecap="round"/>
<path d="M634.8 482.1L634.2 491.0" stroke="#fff" stroke-width="0.72" stroke-linecap="round"/>
<path d="M656.3 493.6L655.8 497.7" stroke="#fff" stroke-width="0.67" stroke-linecap="round"/>
<path d="M645.0 511.0L644.1 520.7" stroke="#fff" stroke-width="0.86" stroke-linecap="round"/>
<path d="M634.5 518.8L632.7 530.3" stroke="#fff" stroke-width="0.50" stroke-linecap="round"/>
<path d="M634.7 479.9L633.9 490.9" stroke="#fff" stroke-width="0.59" stroke-linecap="round"/>
<path d="M639.3 532.6L638.2 538.8" stroke="#fff" stroke-width="0.77" stroke-linecap="round"/>
<path d="M633.7 510.7L633.0 515.6" stroke="#fff" stroke-width="0.59" stroke-linecap="round"/>
<path d="M652.2 530.3L651.0 542.4" stroke="#fff" stroke-width="0.79" stroke-linecap="round"/>
<path d="M645.1 518.1L644.0 529.4" stroke="#fff" stroke-width="0.88" stroke-linecap="round"/>
<path d="M651.2 545.9L650.7 552.4" stroke="#fff" stroke-width="0.62" stroke-linecap="round"/>
<path d="M629.0 498.8L627.5 508.8" stroke="#fff" stroke-width="0.48" stroke-linecap="round"/>
<path d="M652.6 530.5L651.8 534.7" stroke="#fff" stroke-width="0.51" stroke-linecap="round"/>
<path d="M631.5 516.6L630.4 523.9" stroke="#fff" stroke-width="0.46" stroke-linecap="round"/>
<path d="M643.4 488.9L642.0 499.3" stroke="#fff" stroke-width="0.87" stroke-linecap="round"/>
<path d="M653.9 483.2L653.4 490.1" stroke="#fff" stroke-width="0.66" stroke-linecap="round"/>
<path d="M639.5 518.0L638.9 528.9" stroke="#fff" stroke-width="0.69" stroke-linecap="round"/></g>
<path class="s" d="M511.4 562.8L553.3 580.7M578.8 582.2L622.2 571.7"/>
<!-- /RIGHTGROUP -->
<!-- LABELS -->
<text class="l" x="168" y="94">44</text>
<text class="l" x="213.5" y="88">47</text>
<text class="l" x="234" y="108">41</text>
<text class="l" x="253" y="115">49</text>
<text class="l" x="145" y="141">3</text>
<text class="l" x="169" y="142">4</text>
<text class="l" x="220" y="139">52</text>
<text class="l" x="240" y="147">51</text>
<text class="l" x="230.5" y="162">48</text>
<text class="l" x="170" y="172">38</text>
<text class="k" x="258" y="173">60</text>
<text class="k" x="395" y="105">58</text>
<text class="l" x="290" y="99.5">1</text>
<text class="l" x="425" y="12.4">50</text>
<text class="l" x="414" y="29.6">40</text>
<text class="l" x="411" y="135">11</text>
<text class="l" x="314" y="202">12</text>
<text class="l" x="427" y="184.4">9</text>
<text class="l" x="458" y="188.4">10</text>
<text class="l" x="164.2" y="182">14</text>
<text class="l" x="149.9" y="190.6">13</text>
<text class="l" x="172.7" y="213.4">39</text>
<text class="l" x="135" y="219.8">55</text>
<text class="l" x="132.5" y="238.8">28</text>
<text class="l" x="81.7" y="271">35</text>
<text class="l" x="153.8" y="285.1">37</text>
<text class="l" x="103.5" y="322">27</text>
<text class="l" x="167.6" y="280.5">36</text>
<text class="l" x="169.5" y="302.6">30</text>
<text class="l" x="142.8" y="329.4">31</text>
<text class="l" x="153.8" y="342.3">29</text>
<text class="k" x="354" y="257.7">59</text>
<text class="l" x="317.7" y="242.7">2</text>
<text class="l" x="307.6" y="271.6">15</text>
<text class="l" x="163.3" y="552.6">17</text>
<text class="l" x="187.4" y="487.2">20</text>
<text class="l" x="207.5" y="496.3">21</text>
<text class="l" x="242" y="279">5</text>
<text class="l" x="265.5" y="290.1">16</text>
<text class="l" x="266.7" y="328.9">7</text>
<text class="l" x="266.7" y="343.9">6</text>
<text class="l" x="266.7" y="394.2">18</text>
<text class="l" x="193.9" y="376.6">54</text>
<text class="l" x="216.4" y="376.6">53</text>
<text class="l" x="2.8" y="425.3">24</text>
<text class="l" x="122.1" y="371.3">32</text>
<text class="l" x="109.6" y="429.6">33</text>
<text class="l" x="121" y="445.3">57</text>
<text class="l" x="52.6" y="509.4">34</text>
<text class="l" x="105" y="500.7">23</text>
<text class="l" x="145.3" y="358.2">56</text>
<text class="l" x="131.2" y="400.4">19</text>
<text class="k" x="294.5" y="469.3">61</text>
<text class="l" x="288.9" y="526.4">26</text>
<text class="k" x="72.9" y="575.5">62</text>
<text x="10" y="588.8" style="font-family:'Liberation Sans',sans-serif;font-size:10px;fill:#111">&#169; Ruger, used by permission</text>
<text class="l" x="244.2" y="448.2">8</text>
<!-- /LABELS -->
<!-- RLABELS -->
<text class="k" x="612.7" y="189.2">58</text>
<text class="l" x="633.9" y="122.3">50</text>
<text class="l" x="628" y="138.7">40</text>
<text class="k" x="509.2" y="216.4">60</text>
<text class="l" x="461.5" y="227.7">38</text>
<text class="l" x="431.3" y="233.9">14</text>
<text class="l" x="420" y="246.5">13</text>
<text class="l" x="440.1" y="265.4">39</text>
<text class="l" x="490.5" y="391.5">35</text>
<text class="l" x="517.4" y="440.6">27</text>
<text class="l" x="576.9" y="386.2">54</text>
<text class="l" x="536.4" y="464.9">19</text>
<text class="l" x="584" y="555.8">17</text>
<text class="k" x="560.2" y="586.7">62</text>
<!-- /RLABELS -->
</svg>
</body></html>
